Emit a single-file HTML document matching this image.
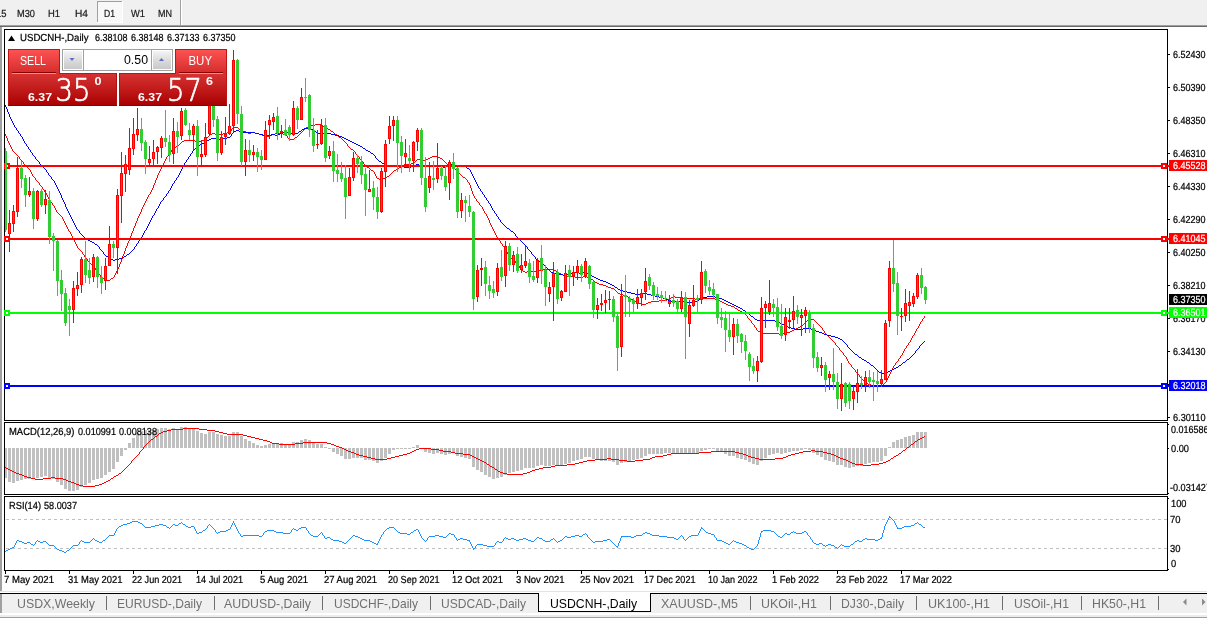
<!DOCTYPE html>
<html lang="en">
<head>
<meta charset="utf-8">
<title>USDCNH-,Daily</title>
<style>
html,body{margin:0;padding:0;background:#fff;overflow:hidden}
body{width:1207px;height:618px}
svg{display:block;font-family:'Liberation Sans', sans-serif}
text{white-space:pre}
.c{shape-rendering:crispEdges}
</style>
</head>
<body>
<svg width="1207" height="618" viewBox="0 0 1207 618">
<defs>
<linearGradient id="gb" x1="0" y1="0" x2="0" y2="1"><stop offset="0" stop-color="#ff5454"/><stop offset="1" stop-color="#d42c2c"/></linearGradient>
<linearGradient id="gp" x1="0" y1="0" x2="0" y2="1"><stop offset="0" stop-color="#d83434"/><stop offset="1" stop-color="#a80000"/></linearGradient>
<linearGradient id="gs" x1="0" y1="0" x2="0" y2="1"><stop offset="0" stop-color="#f4f4f4"/><stop offset="0.5" stop-color="#dcdcdc"/><stop offset="1" stop-color="#c8c8c8"/></linearGradient>
</defs>
<g class="c">
<rect x="0" y="0" width="1207" height="618" fill="#fff" />
<rect x="0" y="0" width="1207" height="25" fill="#f0f0f0" />
<rect x="0" y="25" width="1208" height="1" fill="#a0a0a0" />
<rect x="0" y="26" width="1208" height="1" fill="#696969" />
<rect x="0" y="27" width="2" height="565" fill="#a0a0a0" />
<rect x="0" y="591" width="1208" height="1" fill="#e3e3e3" />
<rect x="0" y="593" width="1208" height="1" fill="#000" />
<rect x="0" y="594" width="1207" height="19" fill="#f0f0f0" />
<rect x="0" y="613" width="1208" height="2" fill="#fff" />
<rect x="0" y="615" width="1207" height="2" fill="#ececec" />
<rect x="0" y="617" width="1207" height="1" fill="#a0a0a0" />
<rect x="0" y="594" width="2" height="19" fill="#a0a0a0" />
<rect x="4" y="29" width="1164" height="1" fill="#000" />
<rect x="4" y="420" width="1164" height="1" fill="#000" />
<rect x="4" y="29" width="1" height="392" fill="#000" />
<rect x="1167" y="29" width="1" height="392" fill="#000" />
<rect x="4" y="422" width="1164" height="1" fill="#000" />
<rect x="4" y="494" width="1164" height="1" fill="#000" />
<rect x="4" y="422" width="1" height="73" fill="#000" />
<rect x="1167" y="422" width="1" height="73" fill="#000" />
<rect x="4" y="496" width="1164" height="1" fill="#000" />
<rect x="4" y="570" width="1164" height="1" fill="#000" />
<rect x="4" y="496" width="1" height="75" fill="#000" />
<rect x="1167" y="496" width="1" height="75" fill="#000" />
</g>
<g class="c">
<rect x="98" y="2" width="24" height="20" fill="#f8f8f8" />
<rect x="97" y="1" width="1" height="22" fill="#a0a0a0" />
<rect x="97" y="1" width="25" height="1" fill="#a0a0a0" />
<rect x="122" y="1" width="1" height="22" fill="#fff" />
<rect x="97" y="22" width="26" height="1" fill="#fff" />
<rect x="180" y="0" width="1" height="25" fill="#a0a0a0" />
<rect x="181" y="0" width="1" height="25" fill="#fff" />
</g>
<text x="-4" y="17" font-size="10.2" fill="#1a1a1a" textLength="10.5" lengthAdjust="spacingAndGlyphs" text-rendering="geometricPrecision" stroke="#1a1a1a" stroke-width="0.22" >15</text>
<text x="17" y="17" font-size="10.2" fill="#1a1a1a" textLength="18" lengthAdjust="spacingAndGlyphs" text-rendering="geometricPrecision" stroke="#1a1a1a" stroke-width="0.22" >M30</text>
<text x="48" y="17" font-size="10.2" fill="#1a1a1a" textLength="12" lengthAdjust="spacingAndGlyphs" text-rendering="geometricPrecision" stroke="#1a1a1a" stroke-width="0.22" >H1</text>
<text x="75" y="17" font-size="10.2" fill="#1a1a1a" textLength="13" lengthAdjust="spacingAndGlyphs" text-rendering="geometricPrecision" stroke="#1a1a1a" stroke-width="0.22" >H4</text>
<text x="104" y="17" font-size="10.2" fill="#1a1a1a" textLength="11" lengthAdjust="spacingAndGlyphs" text-rendering="geometricPrecision" stroke="#1a1a1a" stroke-width="0.22" >D1</text>
<text x="131" y="17" font-size="10.2" fill="#1a1a1a" textLength="14" lengthAdjust="spacingAndGlyphs" text-rendering="geometricPrecision" stroke="#1a1a1a" stroke-width="0.22" >W1</text>
<text x="158" y="17" font-size="10.2" fill="#1a1a1a" textLength="14" lengthAdjust="spacingAndGlyphs" text-rendering="geometricPrecision" stroke="#1a1a1a" stroke-width="0.22" >MN</text>
<g class="c">
<rect x="1168" y="54" width="2" height="1" fill="#000" />
<rect x="1168" y="87" width="2" height="1" fill="#000" />
<rect x="1168" y="120" width="2" height="1" fill="#000" />
<rect x="1168" y="153" width="2" height="1" fill="#000" />
<rect x="1168" y="186" width="2" height="1" fill="#000" />
<rect x="1168" y="219" width="2" height="1" fill="#000" />
<rect x="1168" y="252" width="2" height="1" fill="#000" />
<rect x="1168" y="285" width="2" height="1" fill="#000" />
<rect x="1168" y="318" width="2" height="1" fill="#000" />
<rect x="1168" y="351" width="2" height="1" fill="#000" />
<rect x="1168" y="384" width="2" height="1" fill="#000" />
<rect x="1168" y="417" width="2" height="1" fill="#000" />
<rect x="1168" y="424" width="1" height="1" fill="#000" />
<rect x="1168" y="448" width="1" height="1" fill="#000" />
<rect x="1168" y="493" width="1" height="1" fill="#000" />
<rect x="1168" y="498" width="1" height="1" fill="#000" />
<rect x="1168" y="569" width="1" height="1" fill="#000" />
</g>
<text x="1173" y="58" font-size="10.2" fill="#000" textLength="32.5" lengthAdjust="spacingAndGlyphs" text-rendering="geometricPrecision" stroke="#000" stroke-width="0.22" >6.52430</text>
<text x="1173" y="91" font-size="10.2" fill="#000" textLength="32.5" lengthAdjust="spacingAndGlyphs" text-rendering="geometricPrecision" stroke="#000" stroke-width="0.22" >6.50390</text>
<text x="1173" y="124" font-size="10.2" fill="#000" textLength="32.5" lengthAdjust="spacingAndGlyphs" text-rendering="geometricPrecision" stroke="#000" stroke-width="0.22" >6.48350</text>
<text x="1173" y="157" font-size="10.2" fill="#000" textLength="32.5" lengthAdjust="spacingAndGlyphs" text-rendering="geometricPrecision" stroke="#000" stroke-width="0.22" >6.46310</text>
<text x="1173" y="190" font-size="10.2" fill="#000" textLength="32.5" lengthAdjust="spacingAndGlyphs" text-rendering="geometricPrecision" stroke="#000" stroke-width="0.22" >6.44330</text>
<text x="1173" y="223" font-size="10.2" fill="#000" textLength="32.5" lengthAdjust="spacingAndGlyphs" text-rendering="geometricPrecision" stroke="#000" stroke-width="0.22" >6.42290</text>
<text x="1173" y="256" font-size="10.2" fill="#000" textLength="32.5" lengthAdjust="spacingAndGlyphs" text-rendering="geometricPrecision" stroke="#000" stroke-width="0.22" >6.40250</text>
<text x="1173" y="289" font-size="10.2" fill="#000" textLength="32.5" lengthAdjust="spacingAndGlyphs" text-rendering="geometricPrecision" stroke="#000" stroke-width="0.22" >6.38210</text>
<text x="1173" y="322" font-size="10.2" fill="#000" textLength="32.5" lengthAdjust="spacingAndGlyphs" text-rendering="geometricPrecision" stroke="#000" stroke-width="0.22" >6.36170</text>
<text x="1173" y="355" font-size="10.2" fill="#000" textLength="32.5" lengthAdjust="spacingAndGlyphs" text-rendering="geometricPrecision" stroke="#000" stroke-width="0.22" >6.34130</text>
<text x="1173" y="388" font-size="10.2" fill="#000" textLength="32.5" lengthAdjust="spacingAndGlyphs" text-rendering="geometricPrecision" stroke="#000" stroke-width="0.22" >6.32090</text>
<text x="1173" y="421" font-size="10.2" fill="#000" textLength="32.5" lengthAdjust="spacingAndGlyphs" text-rendering="geometricPrecision" stroke="#000" stroke-width="0.22" >6.30110</text>
<text x="1171" y="433" font-size="10.2" fill="#000" textLength="37.5" lengthAdjust="spacingAndGlyphs" text-rendering="geometricPrecision" stroke="#000" stroke-width="0.22" >0.016586</text>
<text x="1171" y="452" font-size="10.2" fill="#000" textLength="18" lengthAdjust="spacingAndGlyphs" text-rendering="geometricPrecision" stroke="#000" stroke-width="0.22" >0.00</text>
<text x="1170" y="491" font-size="10.2" fill="#000" textLength="41" lengthAdjust="spacingAndGlyphs" text-rendering="geometricPrecision" stroke="#000" stroke-width="0.22" >-0.031427</text>
<text x="1171" y="507" font-size="10.2" fill="#000" textLength="15.5" lengthAdjust="spacingAndGlyphs" text-rendering="geometricPrecision" stroke="#000" stroke-width="0.22" >100</text>
<text x="1170" y="523" font-size="10.2" fill="#000" textLength="10.5" lengthAdjust="spacingAndGlyphs" text-rendering="geometricPrecision" stroke="#000" stroke-width="0.22" >70</text>
<text x="1170" y="552" font-size="10.2" fill="#000" textLength="10.5" lengthAdjust="spacingAndGlyphs" text-rendering="geometricPrecision" stroke="#000" stroke-width="0.22" >30</text>
<text x="1171" y="567" font-size="10.2" fill="#000" textLength="5.2" lengthAdjust="spacingAndGlyphs" text-rendering="geometricPrecision" stroke="#000" stroke-width="0.22" >0</text>
<g class="c">
<rect x="5" y="571" width="1" height="3" fill="#000" />
<rect x="69" y="571" width="1" height="3" fill="#000" />
<rect x="133" y="571" width="1" height="3" fill="#000" />
<rect x="197" y="571" width="1" height="3" fill="#000" />
<rect x="261" y="571" width="1" height="3" fill="#000" />
<rect x="325" y="571" width="1" height="3" fill="#000" />
<rect x="389" y="571" width="1" height="3" fill="#000" />
<rect x="453" y="571" width="1" height="3" fill="#000" />
<rect x="517" y="571" width="1" height="3" fill="#000" />
<rect x="581" y="571" width="1" height="3" fill="#000" />
<rect x="645" y="571" width="1" height="3" fill="#000" />
<rect x="709" y="571" width="1" height="3" fill="#000" />
<rect x="773" y="571" width="1" height="3" fill="#000" />
<rect x="837" y="571" width="1" height="3" fill="#000" />
<rect x="901" y="571" width="1" height="3" fill="#000" />
</g>
<text x="4" y="583" font-size="10.2" fill="#000" textLength="50" lengthAdjust="spacingAndGlyphs" text-rendering="geometricPrecision" stroke="#000" stroke-width="0.22" >7 May 2021</text>
<text x="68" y="583" font-size="10.2" fill="#000" textLength="54.5" lengthAdjust="spacingAndGlyphs" text-rendering="geometricPrecision" stroke="#000" stroke-width="0.22" >31 May 2021</text>
<text x="132" y="583" font-size="10.2" fill="#000" textLength="50" lengthAdjust="spacingAndGlyphs" text-rendering="geometricPrecision" stroke="#000" stroke-width="0.22" >22 Jun 2021</text>
<text x="196" y="583" font-size="10.2" fill="#000" textLength="47" lengthAdjust="spacingAndGlyphs" text-rendering="geometricPrecision" stroke="#000" stroke-width="0.22" >14 Jul 2021</text>
<text x="260" y="583" font-size="10.2" fill="#000" textLength="48" lengthAdjust="spacingAndGlyphs" text-rendering="geometricPrecision" stroke="#000" stroke-width="0.22" >5 Aug 2021</text>
<text x="324" y="583" font-size="10.2" fill="#000" textLength="53" lengthAdjust="spacingAndGlyphs" text-rendering="geometricPrecision" stroke="#000" stroke-width="0.22" >27 Aug 2021</text>
<text x="388" y="583" font-size="10.2" fill="#000" textLength="51.5" lengthAdjust="spacingAndGlyphs" text-rendering="geometricPrecision" stroke="#000" stroke-width="0.22" >20 Sep 2021</text>
<text x="452" y="583" font-size="10.2" fill="#000" textLength="51" lengthAdjust="spacingAndGlyphs" text-rendering="geometricPrecision" stroke="#000" stroke-width="0.22" >12 Oct 2021</text>
<text x="516" y="583" font-size="10.2" fill="#000" textLength="48.5" lengthAdjust="spacingAndGlyphs" text-rendering="geometricPrecision" stroke="#000" stroke-width="0.22" >3 Nov 2021</text>
<text x="580" y="583" font-size="10.2" fill="#000" textLength="54" lengthAdjust="spacingAndGlyphs" text-rendering="geometricPrecision" stroke="#000" stroke-width="0.22" >25 Nov 2021</text>
<text x="644" y="583" font-size="10.2" fill="#000" textLength="51.5" lengthAdjust="spacingAndGlyphs" text-rendering="geometricPrecision" stroke="#000" stroke-width="0.22" >17 Dec 2021</text>
<text x="708" y="583" font-size="10.2" fill="#000" textLength="49.5" lengthAdjust="spacingAndGlyphs" text-rendering="geometricPrecision" stroke="#000" stroke-width="0.22" >10 Jan 2022</text>
<text x="772" y="583" font-size="10.2" fill="#000" textLength="47" lengthAdjust="spacingAndGlyphs" text-rendering="geometricPrecision" stroke="#000" stroke-width="0.22" >1 Feb 2022</text>
<text x="836" y="583" font-size="10.2" fill="#000" textLength="51.5" lengthAdjust="spacingAndGlyphs" text-rendering="geometricPrecision" stroke="#000" stroke-width="0.22" >23 Feb 2022</text>
<text x="900" y="583" font-size="10.2" fill="#000" textLength="52" lengthAdjust="spacingAndGlyphs" text-rendering="geometricPrecision" stroke="#000" stroke-width="0.22" >17 Mar 2022</text>
<g class="c">
<rect x="539" y="593" width="111" height="18" fill="#fff" />
<rect x="538" y="594" width="1" height="18" fill="#000" />
<rect x="650" y="594" width="1" height="18" fill="#000" />
<rect x="538" y="611" width="113" height="1" fill="#000" />
<rect x="106" y="596" width="1" height="14" fill="#6e6e6e" />
<rect x="214" y="596" width="1" height="14" fill="#6e6e6e" />
<rect x="322" y="596" width="1" height="14" fill="#6e6e6e" />
<rect x="430" y="596" width="1" height="14" fill="#6e6e6e" />
<rect x="750" y="596" width="1" height="14" fill="#6e6e6e" />
<rect x="830" y="596" width="1" height="14" fill="#6e6e6e" />
<rect x="916" y="596" width="1" height="14" fill="#6e6e6e" />
<rect x="1002" y="596" width="1" height="14" fill="#6e6e6e" />
<rect x="1081" y="596" width="1" height="14" fill="#6e6e6e" />
<rect x="1158" y="596" width="1" height="14" fill="#6e6e6e" />
</g>
<text x="17" y="608" font-size="13" fill="#707070" textLength="78" lengthAdjust="spacingAndGlyphs" >USDX,Weekly</text>
<text x="117" y="608" font-size="13" fill="#707070" textLength="85" lengthAdjust="spacingAndGlyphs" >EURUSD-,Daily</text>
<text x="224" y="608" font-size="13" fill="#707070" textLength="87" lengthAdjust="spacingAndGlyphs" >AUDUSD-,Daily</text>
<text x="334" y="608" font-size="13" fill="#707070" textLength="84" lengthAdjust="spacingAndGlyphs" >USDCHF-,Daily</text>
<text x="441" y="608" font-size="13" fill="#707070" textLength="85" lengthAdjust="spacingAndGlyphs" >USDCAD-,Daily</text>
<text x="550" y="608" font-size="13" fill="#000" textLength="87" lengthAdjust="spacingAndGlyphs" >USDCNH-,Daily</text>
<text x="661" y="608" font-size="13" fill="#707070" textLength="77" lengthAdjust="spacingAndGlyphs" >XAUUSD-,M5</text>
<text x="761" y="608" font-size="13" fill="#707070" textLength="56" lengthAdjust="spacingAndGlyphs" >UKOil-,H1</text>
<text x="841" y="608" font-size="13" fill="#707070" textLength="63" lengthAdjust="spacingAndGlyphs" >DJ30-,Daily</text>
<text x="928" y="608" font-size="13" fill="#707070" textLength="62" lengthAdjust="spacingAndGlyphs" >UK100-,H1</text>
<text x="1014" y="608" font-size="13" fill="#707070" textLength="55" lengthAdjust="spacingAndGlyphs" >USOil-,H1</text>
<text x="1092" y="608" font-size="13" fill="#707070" textLength="54" lengthAdjust="spacingAndGlyphs" >HK50-,H1</text>
<path d="M1186.5 598.5 L1183 602 L1186.5 605.5z" fill="#8a8a8a"/><path d="M1202 598.5 L1205.5 602 L1202 605.5z" fill="#8a8a8a"/>
<clipPath id="cm"><rect x="5" y="30" width="1162" height="390"/></clipPath>
<g clip-path="url(#cm)">
<path class="c" fill="#ff0000" d="M315 124h7v1h-7zM311 125h4v1h-4zM308 126h3v1h-3zM323 126h2v1h-2zM233 127h5v1h-5zM306 127h2v1h-2zM326 128h2v1h-2zM239 129h2v1h-2zM328 129h2v1h-2zM241 130h2v1h-2zM243 131h3v1h-3zM331 131h2v1h-2zM227 132h3v1h-3zM246 132h2v1h-2zM251 132h4v1h-4zM212 133h3v1h-3zM223 133h4v1h-4zM248 133h3v1h-3zM255 133h4v1h-4zM275 133h8v1h-8zM210 134h2v1h-2zM215 134h8v1h-8zM259 134h3v1h-3zM272 134h3v1h-3zM283 134h3v1h-3zM335 134h2v1h-2zM262 135h2v1h-2zM270 135h2v1h-2zM264 136h6v1h-6zM295 137h2v1h-2zM339 137h2v1h-2zM204 139h2v1h-2zM289 139h5v1h-5zM184 140h11v1h-11zM202 140h2v1h-2zM182 141h2v1h-2zM195 141h7v1h-7zM176 146h2v1h-2zM174 147h2v1h-2zM351 149h2v1h-2zM432 156h6v1h-6zM430 157h2v1h-2zM438 157h2v1h-2zM428 158h2v1h-2zM440 158h2v1h-2zM417 159h6v1h-6zM426 159h2v1h-2zM423 160h3v1h-3zM411 163h3v1h-3zM404 164h7v1h-7zM447 164h2v1h-2zM402 165h2v1h-2zM450 166h2v1h-2zM367 167h2v1h-2zM399 167h2v1h-2zM452 167h2v1h-2zM396 169h2v1h-2zM371 170h2v1h-2zM394 170h2v1h-2zM387 176h2v1h-2zM463 177h2v1h-2zM377 178h2v1h-2zM383 178h3v1h-3zM379 179h4v1h-4zM511 258h2v1h-2zM543 269h11v1h-11zM539 270h4v1h-4zM554 270h2v1h-2zM523 271h2v1h-2zM527 271h12v1h-12zM556 271h2v1h-2zM525 272h2v1h-2zM559 273h2v1h-2zM561 274h2v1h-2zM563 275h4v1h-4zM567 276h8v1h-8zM583 276h4v1h-4zM575 277h8v1h-8zM587 277h3v1h-3zM102 278h2v1h-2zM111 278h2v1h-2zM104 279h3v1h-3zM591 279h2v1h-2zM107 280h3v1h-3zM595 282h2v1h-2zM597 283h2v1h-2zM599 284h4v1h-4zM603 285h3v1h-3zM606 286h2v1h-2zM608 287h3v1h-3zM611 288h3v1h-3zM618 293h2v1h-2zM620 294h3v1h-3zM623 295h3v1h-3zM626 296h2v1h-2zM673 296h2v1h-2zM628 297h2v1h-2zM671 297h2v1h-2zM675 297h8v1h-8zM683 298h12v1h-12zM699 298h16v1h-16zM631 299h2v1h-2zM667 299h3v1h-3zM695 299h4v1h-4zM715 299h3v1h-3zM633 300h2v1h-2zM659 300h8v1h-8zM718 300h2v1h-2zM635 301h3v1h-3zM651 301h8v1h-8zM720 301h2v1h-2zM648 302h3v1h-3zM722 302h2v1h-2zM639 303h2v1h-2zM646 303h2v1h-2zM724 303h2v1h-2zM641 304h5v1h-5zM726 304h2v1h-2zM728 305h3v1h-3zM731 306h3v1h-3zM735 308h2v1h-2zM738 310h2v1h-2zM740 311h2v1h-2zM743 313h2v1h-2zM809 319h5v1h-5zM807 320h2v1h-2zM800 326h2v1h-2zM798 327h2v1h-2zM796 328h2v1h-2zM794 329h2v1h-2zM792 330h2v1h-2zM758 331h2v1h-2zM790 331h2v1h-2zM760 332h3v1h-3zM784 332h6v1h-6zM763 333h16v1h-16zM782 333h2v1h-2zM779 334h3v1h-3zM866 383h2v1h-2zM868 384h3v1h-3zM871 385h4v1h-4zM875 386h7v1h-7zM5 134h1v2h-1zM6 136h1v2h-1zM7 138h1v3h-1zM8 141h1v2h-1zM9 143h1v2h-1zM10 145h1v2h-1zM11 147h1v2h-1zM12 149h1v2h-1zM13 151h1v1h-1zM14 152h1v1h-1zM15 153h1v1h-1zM16 154h1v1h-1zM17 155h1v1h-1zM18 156h1v1h-1zM19 157h1v2h-1zM20 159h1v1h-1zM21 160h1v1h-1zM22 161h1v1h-1zM23 162h1v2h-1zM24 164h1v1h-1zM25 165h1v1h-1zM26 166h1v1h-1zM27 167h1v1h-1zM28 168h1v1h-1zM29 169h1v1h-1zM30 170h1v2h-1zM31 172h1v2h-1zM32 174h1v2h-1zM33 176h1v1h-1zM34 177h1v1h-1zM35 178h1v2h-1zM36 180h1v1h-1zM37 181h1v1h-1zM38 182h1v1h-1zM39 183h1v2h-1zM40 185h1v1h-1zM41 186h1v1h-1zM42 187h1v2h-1zM43 189h1v1h-1zM44 190h1v2h-1zM45 192h1v1h-1zM46 193h1v2h-1zM47 195h1v2h-1zM48 197h1v2h-1zM49 199h1v1h-1zM50 200h1v2h-1zM51 202h1v1h-1zM52 203h1v2h-1zM53 205h1v1h-1zM54 206h1v2h-1zM55 208h1v2h-1zM56 210h1v2h-1zM57 212h1v1h-1zM58 213h1v1h-1zM59 214h1v1h-1zM60 215h1v1h-1zM61 216h1v1h-1zM62 217h1v2h-1zM63 219h1v2h-1zM64 221h1v2h-1zM65 223h1v2h-1zM66 225h1v2h-1zM67 227h1v2h-1zM68 229h1v2h-1zM69 231h1v1h-1zM70 232h1v2h-1zM71 234h1v2h-1zM72 236h1v2h-1zM73 238h1v2h-1zM74 240h1v2h-1zM75 242h1v2h-1zM76 244h1v2h-1zM77 246h1v2h-1zM78 248h1v1h-1zM79 249h1v1h-1zM80 250h1v1h-1zM81 251h1v1h-1zM82 252h1v2h-1zM83 254h1v1h-1zM84 255h1v2h-1zM85 257h1v1h-1zM86 258h1v1h-1zM87 259h1v2h-1zM88 261h1v1h-1zM89 262h1v1h-1zM90 263h1v1h-1zM91 264h1v1h-1zM92 265h1v1h-1zM93 266h1v1h-1zM94 267h1v1h-1zM95 268h1v2h-1zM96 270h1v1h-1zM97 271h1v1h-1zM98 272h1v2h-1zM99 274h1v1h-1zM100 275h1v2h-1zM101 277h1v1h-1zM110 279h1v1h-1zM113 277h1v1h-1zM114 275h1v2h-1zM115 273h1v2h-1zM116 271h1v2h-1zM117 269h1v2h-1zM118 267h1v2h-1zM119 264h1v3h-1zM120 262h1v2h-1zM121 259h1v3h-1zM122 256h1v3h-1zM123 254h1v2h-1zM124 251h1v3h-1zM125 248h1v3h-1zM126 246h1v2h-1zM127 243h1v3h-1zM128 241h1v2h-1zM129 238h1v3h-1zM130 236h1v2h-1zM131 233h1v3h-1zM132 231h1v2h-1zM133 228h1v3h-1zM134 226h1v2h-1zM135 223h1v3h-1zM136 221h1v2h-1zM137 218h1v3h-1zM138 216h1v2h-1zM139 214h1v2h-1zM140 212h1v2h-1zM141 209h1v3h-1zM142 207h1v2h-1zM143 205h1v2h-1zM144 203h1v2h-1zM145 201h1v2h-1zM146 199h1v2h-1zM147 197h1v2h-1zM148 195h1v2h-1zM149 194h1v1h-1zM150 192h1v2h-1zM151 190h1v2h-1zM152 188h1v2h-1zM153 185h1v3h-1zM154 183h1v2h-1zM155 180h1v3h-1zM156 178h1v2h-1zM157 175h1v3h-1zM158 173h1v2h-1zM159 171h1v2h-1zM160 169h1v2h-1zM161 167h1v2h-1zM162 165h1v2h-1zM163 163h1v2h-1zM164 161h1v2h-1zM165 159h1v2h-1zM166 157h1v2h-1zM167 156h1v1h-1zM168 154h1v2h-1zM169 153h1v1h-1zM170 152h1v1h-1zM171 150h1v2h-1zM172 149h1v1h-1zM173 148h1v1h-1zM178 145h1v1h-1zM179 144h1v1h-1zM180 143h1v1h-1zM181 142h1v1h-1zM206 138h1v1h-1zM207 137h1v1h-1zM208 136h1v1h-1zM209 135h1v1h-1zM230 131h1v1h-1zM231 129h1v2h-1zM232 128h1v1h-1zM238 128h1v1h-1zM286 135h1v1h-1zM287 136h1v2h-1zM288 138h1v1h-1zM294 138h1v1h-1zM297 136h1v1h-1zM298 135h1v1h-1zM299 134h1v1h-1zM300 133h1v1h-1zM301 132h1v1h-1zM302 131h1v1h-1zM303 130h1v1h-1zM304 129h1v1h-1zM305 128h1v1h-1zM322 125h1v1h-1zM325 127h1v1h-1zM330 130h1v1h-1zM333 132h1v1h-1zM334 133h1v1h-1zM337 135h1v1h-1zM338 136h1v1h-1zM341 138h1v1h-1zM342 139h1v1h-1zM343 140h1v1h-1zM344 141h1v1h-1zM345 142h1v1h-1zM346 143h1v1h-1zM347 144h1v2h-1zM348 146h1v1h-1zM349 147h1v1h-1zM350 148h1v1h-1zM353 150h1v1h-1zM354 151h1v1h-1zM355 152h1v2h-1zM356 154h1v1h-1zM357 155h1v1h-1zM358 156h1v1h-1zM359 157h1v2h-1zM360 159h1v1h-1zM361 160h1v1h-1zM362 161h1v1h-1zM363 162h1v2h-1zM364 164h1v1h-1zM365 165h1v1h-1zM366 166h1v1h-1zM369 168h1v1h-1zM370 169h1v1h-1zM373 171h1v1h-1zM374 172h1v2h-1zM375 174h1v2h-1zM376 176h1v2h-1zM386 177h1v1h-1zM389 175h1v1h-1zM390 174h1v1h-1zM391 173h1v1h-1zM392 172h1v1h-1zM393 171h1v1h-1zM398 168h1v1h-1zM401 166h1v1h-1zM414 162h1v1h-1zM415 161h1v1h-1zM416 160h1v1h-1zM442 159h1v1h-1zM443 160h1v1h-1zM444 161h1v1h-1zM445 162h1v1h-1zM446 163h1v1h-1zM449 165h1v1h-1zM454 168h1v1h-1zM455 169h1v1h-1zM456 170h1v1h-1zM457 171h1v1h-1zM458 172h1v1h-1zM459 173h1v1h-1zM460 174h1v1h-1zM461 175h1v1h-1zM462 176h1v1h-1zM465 178h1v1h-1zM466 179h1v1h-1zM467 180h1v2h-1zM468 182h1v1h-1zM469 183h1v2h-1zM470 185h1v3h-1zM471 188h1v3h-1zM472 191h1v3h-1zM473 194h1v2h-1zM474 196h1v2h-1zM475 198h1v1h-1zM476 199h1v2h-1zM477 201h1v1h-1zM478 202h1v1h-1zM479 203h1v2h-1zM480 205h1v1h-1zM481 206h1v1h-1zM482 207h1v2h-1zM483 209h1v2h-1zM484 211h1v2h-1zM485 213h1v1h-1zM486 214h1v2h-1zM487 216h1v2h-1zM488 218h1v2h-1zM489 220h1v3h-1zM490 223h1v2h-1zM491 225h1v2h-1zM492 227h1v2h-1zM493 229h1v2h-1zM494 231h1v2h-1zM495 233h1v2h-1zM496 235h1v2h-1zM497 237h1v1h-1zM498 238h1v2h-1zM499 240h1v1h-1zM500 241h1v2h-1zM501 243h1v1h-1zM502 244h1v2h-1zM503 246h1v1h-1zM504 247h1v2h-1zM505 249h1v1h-1zM506 250h1v2h-1zM507 252h1v2h-1zM508 254h1v2h-1zM509 256h1v1h-1zM510 257h1v1h-1zM513 259h1v1h-1zM514 260h1v1h-1zM515 261h1v2h-1zM516 263h1v1h-1zM517 264h1v1h-1zM518 265h1v1h-1zM519 266h1v2h-1zM520 268h1v1h-1zM521 269h1v1h-1zM522 270h1v1h-1zM558 272h1v1h-1zM590 278h1v1h-1zM593 280h1v1h-1zM594 281h1v1h-1zM614 289h1v1h-1zM615 290h1v1h-1zM616 291h1v1h-1zM617 292h1v1h-1zM630 298h1v1h-1zM638 302h1v1h-1zM670 298h1v1h-1zM734 307h1v1h-1zM737 309h1v1h-1zM742 312h1v1h-1zM745 314h1v1h-1zM746 315h1v1h-1zM747 316h1v2h-1zM748 318h1v1h-1zM749 319h1v1h-1zM750 320h1v1h-1zM751 321h1v2h-1zM752 323h1v1h-1zM753 324h1v1h-1zM754 325h1v2h-1zM755 327h1v1h-1zM756 328h1v2h-1zM757 330h1v1h-1zM802 325h1v1h-1zM803 324h1v1h-1zM804 323h1v1h-1zM805 322h1v1h-1zM806 321h1v1h-1zM814 320h1v1h-1zM815 321h1v1h-1zM816 322h1v1h-1zM817 323h1v1h-1zM818 324h1v1h-1zM819 325h1v1h-1zM820 326h1v1h-1zM821 327h1v1h-1zM822 328h1v2h-1zM823 330h1v1h-1zM824 331h1v2h-1zM825 333h1v1h-1zM826 334h1v1h-1zM827 335h1v1h-1zM828 336h1v1h-1zM829 337h1v1h-1zM830 338h1v1h-1zM831 339h1v1h-1zM832 340h1v1h-1zM833 341h1v1h-1zM834 342h1v1h-1zM835 343h1v2h-1zM836 345h1v1h-1zM837 346h1v1h-1zM838 347h1v1h-1zM839 348h1v2h-1zM840 350h1v1h-1zM841 351h1v1h-1zM842 352h1v1h-1zM843 353h1v2h-1zM844 355h1v1h-1zM845 356h1v1h-1zM846 357h1v2h-1zM847 359h1v2h-1zM848 361h1v2h-1zM849 363h1v1h-1zM850 364h1v1h-1zM851 365h1v2h-1zM852 367h1v1h-1zM853 368h1v1h-1zM854 369h1v1h-1zM855 370h1v2h-1zM856 372h1v1h-1zM857 373h1v1h-1zM858 374h1v1h-1zM859 375h1v2h-1zM860 377h1v1h-1zM861 378h1v1h-1zM862 379h1v1h-1zM863 380h1v1h-1zM864 381h1v1h-1zM865 382h1v1h-1zM882 385h1v1h-1zM883 384h1v1h-1zM884 383h1v1h-1zM885 382h1v1h-1zM886 380h1v2h-1zM887 378h1v2h-1zM888 376h1v2h-1zM889 374h1v2h-1zM890 372h1v2h-1zM891 370h1v2h-1zM892 368h1v2h-1zM893 366h1v2h-1zM894 365h1v1h-1zM895 363h1v2h-1zM896 362h1v1h-1zM897 361h1v1h-1zM898 359h1v2h-1zM899 358h1v1h-1zM900 356h1v2h-1zM901 355h1v1h-1zM902 353h1v2h-1zM903 351h1v2h-1zM904 349h1v2h-1zM905 348h1v1h-1zM906 346h1v2h-1zM907 345h1v1h-1zM908 343h1v2h-1zM909 342h1v1h-1zM910 340h1v2h-1zM911 338h1v2h-1zM912 336h1v2h-1zM913 335h1v1h-1zM914 333h1v2h-1zM915 331h1v2h-1zM916 329h1v2h-1zM917 328h1v1h-1zM918 326h1v2h-1zM919 324h1v2h-1zM920 322h1v2h-1zM921 321h1v1h-1zM922 319h1v2h-1zM923 318h1v1h-1zM924 316h1v2h-1z" />
<path class="c" fill="#0000ff" d="M304 128h7v1h-7zM302 129h2v1h-2zM311 129h3v1h-3zM236 130h3v1h-3zM234 131h2v1h-2zM239 131h4v1h-4zM299 131h2v1h-2zM243 132h12v1h-12zM283 132h8v1h-8zM255 133h4v1h-4zM280 133h3v1h-3zM291 133h7v1h-7zM317 133h14v1h-14zM259 134h4v1h-4zM271 134h4v1h-4zM278 134h2v1h-2zM331 134h4v1h-4zM263 135h8v1h-8zM275 135h3v1h-3zM335 135h4v1h-4zM339 136h3v1h-3zM227 137h3v1h-3zM342 137h2v1h-2zM211 138h8v1h-8zM223 138h4v1h-4zM344 138h2v1h-2zM209 139h2v1h-2zM219 139h4v1h-4zM346 139h2v1h-2zM207 140h2v1h-2zM348 140h2v1h-2zM350 141h2v1h-2zM204 142h2v1h-2zM352 142h2v1h-2zM202 143h2v1h-2zM354 143h2v1h-2zM200 144h2v1h-2zM356 144h2v1h-2zM198 145h2v1h-2zM358 145h2v1h-2zM360 146h2v1h-2zM363 148h2v1h-2zM366 150h2v1h-2zM368 151h2v1h-2zM371 153h2v1h-2zM379 161h2v1h-2zM382 163h2v1h-2zM384 164h3v1h-3zM416 164h3v1h-3zM451 164h4v1h-4zM387 165h15v1h-15zM414 165h2v1h-2zM419 165h4v1h-4zM427 165h8v1h-8zM448 165h3v1h-3zM455 165h8v1h-8zM402 166h2v1h-2zM411 166h3v1h-3zM423 166h4v1h-4zM435 166h8v1h-8zM446 166h2v1h-2zM463 166h3v1h-3zM404 167h7v1h-7zM443 167h3v1h-3zM467 168h2v1h-2zM507 228h2v1h-2zM511 231h2v1h-2zM86 239h2v1h-2zM88 240h2v1h-2zM90 241h2v1h-2zM92 242h2v1h-2zM95 244h2v1h-2zM127 254h2v1h-2zM106 256h2v1h-2zM124 256h2v1h-2zM108 257h2v1h-2zM122 257h2v1h-2zM119 258h3v1h-3zM111 259h2v1h-2zM115 259h4v1h-4zM113 260h2v1h-2zM538 261h2v1h-2zM540 262h2v1h-2zM551 272h2v1h-2zM575 272h4v1h-4zM583 272h3v1h-3zM553 273h6v1h-6zM571 273h4v1h-4zM579 273h4v1h-4zM586 273h2v1h-2zM559 274h4v1h-4zM567 274h4v1h-4zM588 274h2v1h-2zM563 275h4v1h-4zM590 275h2v1h-2zM592 276h2v1h-2zM594 277h2v1h-2zM596 278h2v1h-2zM598 279h2v1h-2zM600 280h3v1h-3zM603 281h3v1h-3zM606 282h2v1h-2zM608 283h2v1h-2zM610 284h2v1h-2zM612 285h2v1h-2zM615 287h2v1h-2zM618 289h2v1h-2zM620 290h3v1h-3zM623 291h4v1h-4zM627 292h4v1h-4zM631 293h4v1h-4zM643 293h4v1h-4zM635 294h8v1h-8zM647 294h4v1h-4zM651 295h4v1h-4zM655 296h4v1h-4zM707 296h8v1h-8zM659 297h4v1h-4zM701 297h6v1h-6zM715 297h4v1h-4zM663 298h3v1h-3zM719 298h3v1h-3zM666 299h2v1h-2zM722 299h2v1h-2zM668 300h3v1h-3zM724 300h2v1h-2zM671 301h16v1h-16zM695 301h3v1h-3zM726 301h2v1h-2zM687 302h8v1h-8zM728 302h2v1h-2zM730 303h2v1h-2zM732 304h2v1h-2zM734 305h2v1h-2zM736 306h2v1h-2zM738 307h2v1h-2zM740 308h2v1h-2zM743 310h2v1h-2zM747 313h2v1h-2zM751 316h2v1h-2zM755 319h2v1h-2zM757 320h18v1h-18zM775 321h3v1h-3zM778 322h2v1h-2zM780 323h2v1h-2zM782 324h2v1h-2zM784 325h2v1h-2zM786 326h2v1h-2zM788 327h3v1h-3zM791 328h4v1h-4zM803 328h8v1h-8zM795 329h8v1h-8zM811 329h3v1h-3zM814 330h2v1h-2zM816 331h3v1h-3zM819 332h3v1h-3zM822 333h2v1h-2zM824 334h3v1h-3zM827 335h4v1h-4zM831 336h4v1h-4zM835 337h3v1h-3zM838 338h2v1h-2zM840 339h2v1h-2zM855 354h2v1h-2zM859 357h2v1h-2zM862 359h2v1h-2zM907 359h2v1h-2zM864 360h2v1h-2zM867 362h2v1h-2zM903 362h2v1h-2zM871 365h2v1h-2zM899 365h2v1h-2zM896 367h2v1h-2zM894 368h2v1h-2zM892 369h2v1h-2zM890 370h2v1h-2zM888 371h2v1h-2zM879 372h2v1h-2zM886 372h2v1h-2zM881 373h5v1h-5zM5 105h1v2h-1zM6 107h1v2h-1zM7 109h1v3h-1zM8 112h1v2h-1zM9 114h1v3h-1zM10 117h1v2h-1zM11 119h1v2h-1zM12 121h1v2h-1zM13 123h1v2h-1zM14 125h1v2h-1zM15 127h1v1h-1zM16 128h1v2h-1zM17 130h1v1h-1zM18 131h1v2h-1zM19 133h1v1h-1zM20 134h1v2h-1zM21 136h1v1h-1zM22 137h1v2h-1zM23 139h1v2h-1zM24 141h1v2h-1zM25 143h1v1h-1zM26 144h1v2h-1zM27 146h1v1h-1zM28 147h1v2h-1zM29 149h1v1h-1zM30 150h1v2h-1zM31 152h1v1h-1zM32 153h1v2h-1zM33 155h1v1h-1zM34 156h1v1h-1zM35 157h1v2h-1zM36 159h1v1h-1zM37 160h1v1h-1zM38 161h1v1h-1zM39 162h1v2h-1zM40 164h1v1h-1zM41 165h1v1h-1zM42 166h1v1h-1zM43 167h1v1h-1zM44 168h1v1h-1zM45 169h1v1h-1zM46 170h1v2h-1zM47 172h1v1h-1zM48 173h1v2h-1zM49 175h1v1h-1zM50 176h1v1h-1zM51 177h1v2h-1zM52 179h1v1h-1zM53 180h1v1h-1zM54 181h1v2h-1zM55 183h1v2h-1zM56 185h1v2h-1zM57 187h1v2h-1zM58 189h1v2h-1zM59 191h1v2h-1zM60 193h1v2h-1zM61 195h1v3h-1zM62 198h1v2h-1zM63 200h1v2h-1zM64 202h1v2h-1zM65 204h1v3h-1zM66 207h1v2h-1zM67 209h1v2h-1zM68 211h1v2h-1zM69 213h1v2h-1zM70 215h1v2h-1zM71 217h1v2h-1zM72 219h1v2h-1zM73 221h1v2h-1zM74 223h1v2h-1zM75 225h1v2h-1zM76 227h1v2h-1zM77 229h1v1h-1zM78 230h1v1h-1zM79 231h1v2h-1zM80 233h1v1h-1zM81 234h1v1h-1zM82 235h1v1h-1zM83 236h1v1h-1zM84 237h1v1h-1zM85 238h1v1h-1zM94 243h1v1h-1zM97 245h1v1h-1zM98 246h1v1h-1zM99 247h1v2h-1zM100 249h1v1h-1zM101 250h1v1h-1zM102 251h1v1h-1zM103 252h1v2h-1zM104 254h1v1h-1zM105 255h1v1h-1zM110 258h1v1h-1zM126 255h1v1h-1zM129 253h1v1h-1zM130 252h1v1h-1zM131 251h1v1h-1zM132 250h1v1h-1zM133 249h1v1h-1zM134 247h1v2h-1zM135 246h1v1h-1zM136 244h1v2h-1zM137 243h1v1h-1zM138 241h1v2h-1zM139 240h1v1h-1zM140 238h1v2h-1zM141 237h1v1h-1zM142 235h1v2h-1zM143 233h1v2h-1zM144 231h1v2h-1zM145 230h1v1h-1zM146 228h1v2h-1zM147 226h1v2h-1zM148 224h1v2h-1zM149 222h1v2h-1zM150 220h1v2h-1zM151 218h1v2h-1zM152 216h1v2h-1zM153 215h1v1h-1zM154 213h1v2h-1zM155 211h1v2h-1zM156 209h1v2h-1zM157 208h1v1h-1zM158 206h1v2h-1zM159 204h1v2h-1zM160 202h1v2h-1zM161 201h1v1h-1zM162 200h1v1h-1zM163 198h1v2h-1zM164 197h1v1h-1zM165 196h1v1h-1zM166 194h1v2h-1zM167 193h1v1h-1zM168 191h1v2h-1zM169 190h1v1h-1zM170 188h1v2h-1zM171 186h1v2h-1zM172 184h1v2h-1zM173 183h1v1h-1zM174 181h1v2h-1zM175 180h1v1h-1zM176 178h1v2h-1zM177 177h1v1h-1zM178 175h1v2h-1zM179 173h1v2h-1zM180 171h1v2h-1zM181 169h1v2h-1zM182 167h1v2h-1zM183 165h1v2h-1zM184 163h1v2h-1zM185 162h1v1h-1zM186 160h1v2h-1zM187 159h1v1h-1zM188 157h1v2h-1zM189 156h1v1h-1zM190 154h1v2h-1zM191 153h1v1h-1zM192 151h1v2h-1zM193 150h1v1h-1zM194 149h1v1h-1zM195 148h1v1h-1zM196 147h1v1h-1zM197 146h1v1h-1zM206 141h1v1h-1zM230 136h1v1h-1zM231 134h1v2h-1zM232 133h1v1h-1zM233 132h1v1h-1zM298 132h1v1h-1zM301 130h1v1h-1zM314 130h1v1h-1zM315 131h1v1h-1zM316 132h1v1h-1zM362 147h1v1h-1zM365 149h1v1h-1zM370 152h1v1h-1zM373 154h1v1h-1zM374 155h1v1h-1zM375 156h1v2h-1zM376 158h1v1h-1zM377 159h1v1h-1zM378 160h1v1h-1zM381 162h1v1h-1zM466 167h1v1h-1zM469 169h1v1h-1zM470 170h1v2h-1zM471 172h1v2h-1zM472 174h1v2h-1zM473 176h1v2h-1zM474 178h1v2h-1zM475 180h1v2h-1zM476 182h1v2h-1zM477 184h1v2h-1zM478 186h1v2h-1zM479 188h1v1h-1zM480 189h1v2h-1zM481 191h1v1h-1zM482 192h1v2h-1zM483 194h1v1h-1zM484 195h1v2h-1zM485 197h1v1h-1zM486 198h1v2h-1zM487 200h1v1h-1zM488 201h1v2h-1zM489 203h1v1h-1zM490 204h1v2h-1zM491 206h1v2h-1zM492 208h1v2h-1zM493 210h1v1h-1zM494 211h1v2h-1zM495 213h1v1h-1zM496 214h1v2h-1zM497 216h1v1h-1zM498 217h1v2h-1zM499 219h1v1h-1zM500 220h1v2h-1zM501 222h1v1h-1zM502 223h1v1h-1zM503 224h1v1h-1zM504 225h1v1h-1zM505 226h1v1h-1zM506 227h1v1h-1zM509 229h1v1h-1zM510 230h1v1h-1zM513 232h1v1h-1zM514 233h1v1h-1zM515 234h1v2h-1zM516 236h1v1h-1zM517 237h1v1h-1zM518 238h1v1h-1zM519 239h1v1h-1zM520 240h1v1h-1zM521 241h1v1h-1zM522 242h1v1h-1zM523 243h1v1h-1zM524 244h1v1h-1zM525 245h1v1h-1zM526 246h1v1h-1zM527 247h1v2h-1zM528 249h1v1h-1zM529 250h1v1h-1zM530 251h1v1h-1zM531 252h1v2h-1zM532 254h1v1h-1zM533 255h1v1h-1zM534 256h1v1h-1zM535 257h1v2h-1zM536 259h1v1h-1zM537 260h1v1h-1zM542 263h1v1h-1zM543 264h1v1h-1zM544 265h1v1h-1zM545 266h1v1h-1zM546 267h1v1h-1zM547 268h1v1h-1zM548 269h1v1h-1zM549 270h1v1h-1zM550 271h1v1h-1zM614 286h1v1h-1zM617 288h1v1h-1zM698 300h1v1h-1zM699 299h1v1h-1zM700 298h1v1h-1zM742 309h1v1h-1zM745 311h1v1h-1zM746 312h1v1h-1zM749 314h1v1h-1zM750 315h1v1h-1zM753 317h1v1h-1zM754 318h1v1h-1zM842 340h1v1h-1zM843 341h1v1h-1zM844 342h1v1h-1zM845 343h1v1h-1zM846 344h1v1h-1zM847 345h1v2h-1zM848 347h1v1h-1zM849 348h1v1h-1zM850 349h1v1h-1zM851 350h1v1h-1zM852 351h1v1h-1zM853 352h1v1h-1zM854 353h1v1h-1zM857 355h1v1h-1zM858 356h1v1h-1zM861 358h1v1h-1zM866 361h1v1h-1zM869 363h1v1h-1zM870 364h1v1h-1zM873 366h1v1h-1zM874 367h1v1h-1zM875 368h1v1h-1zM876 369h1v1h-1zM877 370h1v1h-1zM878 371h1v1h-1zM898 366h1v1h-1zM901 364h1v1h-1zM902 363h1v1h-1zM905 361h1v1h-1zM906 360h1v1h-1zM909 358h1v1h-1zM910 357h1v1h-1zM911 356h1v1h-1zM912 355h1v1h-1zM913 354h1v1h-1zM914 353h1v1h-1zM915 351h1v2h-1zM916 350h1v1h-1zM917 349h1v1h-1zM918 348h1v1h-1zM919 346h1v2h-1zM920 345h1v1h-1zM921 344h1v1h-1zM922 343h1v1h-1zM923 342h1v1h-1zM924 341h1v1h-1z" />
</g>
<g class="c">
<rect x="4" y="165" width="1165" height="2" fill="#ff0000" />
<rect x="4" y="163" width="6" height="6" fill="#ff0000" />
<rect x="6" y="165" width="2" height="2" fill="#fff" />
<rect x="1161" y="163" width="6" height="6" fill="#ff0000" />
<rect x="1163" y="165" width="2" height="2" fill="#fff" />
</g>
<g class="c">
<rect x="4" y="238" width="1165" height="2" fill="#ff0000" />
<rect x="4" y="236" width="6" height="6" fill="#ff0000" />
<rect x="6" y="238" width="2" height="2" fill="#fff" />
<rect x="1161" y="236" width="6" height="6" fill="#ff0000" />
<rect x="1163" y="238" width="2" height="2" fill="#fff" />
</g>
<g class="c">
<rect x="4" y="312" width="1165" height="2" fill="#00ff00" />
<rect x="4" y="310" width="6" height="6" fill="#00ff00" />
<rect x="6" y="312" width="2" height="2" fill="#fff" />
<rect x="1161" y="310" width="6" height="6" fill="#00ff00" />
<rect x="1163" y="312" width="2" height="2" fill="#fff" />
</g>
<g class="c">
<rect x="4" y="385" width="1165" height="2" fill="#0000ff" />
<rect x="4" y="383" width="6" height="6" fill="#0000ff" />
<rect x="6" y="385" width="2" height="2" fill="#fff" />
<rect x="1161" y="383" width="6" height="6" fill="#0000ff" />
<rect x="1163" y="385" width="2" height="2" fill="#fff" />
</g>
<g clip-path="url(#cm)">
<g class="c">
<path fill="#32cd32" d="M5 148h1v84h-1zM4 151h3v79h-3zM21 161h1v27h-1zM20 168h3v11h-3zM25 175h1v32h-1zM24 178h3v17h-3zM33 188h1v41h-1zM32 191h3v28h-3zM41 189h1v18h-1zM40 191h3v14h-3zM49 191h1v53h-1zM48 200h3v37h-3zM53 233h1v38h-1zM52 236h3v5h-3zM57 240h1v56h-1zM56 241h3v40h-3zM61 270h1v41h-1zM60 280h3v14h-3zM65 288h1v38h-1zM64 293h3v30h-3zM69 299h1v37h-1zM68 306h3v4h-3zM85 241h1v42h-1zM84 259h3v16h-3zM89 258h1v26h-1zM88 270h3v8h-3zM97 256h1v32h-1zM96 257h3v20h-3zM101 266h1v28h-1zM100 277h3v6h-3zM113 241h1v17h-1zM112 244h3v4h-3zM141 118h1v33h-1zM140 129h3v14h-3zM145 140h1v34h-1zM144 142h3v17h-3zM165 110h1v37h-1zM164 138h3v4h-3zM169 135h1v27h-1zM168 142h3v13h-3zM177 122h1v31h-1zM176 131h3v6h-3zM185 108h1v18h-1zM184 110h3v15h-3zM189 123h1v17h-1zM188 130h3v5h-3zM197 120h1v56h-1zM196 126h3v31h-3zM213 98h1v29h-1zM212 100h3v20h-3zM217 116h1v45h-1zM216 119h3v34h-3zM237 59h1v65h-1zM236 60h3v54h-3zM241 106h1v60h-1zM240 114h3v48h-3zM249 140h1v22h-1zM248 150h3v5h-3zM257 148h1v24h-1zM256 152h3v5h-3zM261 150h1v20h-1zM260 156h3v4h-3zM277 107h1v33h-1zM276 116h3v17h-3zM285 119h1v17h-1zM284 130h3v5h-3zM289 125h1v16h-1zM288 127h3v8h-3zM297 106h1v23h-1zM296 108h3v12h-3zM305 78h1v24h-1zM304 97h3v1h-3zM309 94h1v43h-1zM308 95h3v35h-3zM313 118h1v34h-1zM312 130h3v16h-3zM325 118h1v44h-1zM324 125h3v33h-3zM333 141h1v41h-1zM332 151h3v20h-3zM337 154h1v28h-1zM336 170h3v4h-3zM341 162h1v20h-1zM340 173h3v6h-3zM345 165h1v54h-1zM344 178h3v19h-3zM357 155h1v18h-1zM356 158h3v6h-3zM361 156h1v28h-1zM360 162h3v13h-3zM365 168h1v48h-1zM364 174h3v16h-3zM373 181h1v29h-1zM372 188h3v9h-3zM377 187h1v32h-1zM376 197h3v15h-3zM397 116h1v56h-1zM396 120h3v23h-3zM401 136h1v37h-1zM400 142h3v14h-3zM409 145h1v27h-1zM408 158h3v3h-3zM421 128h1v57h-1zM420 130h3v48h-3zM425 157h1v55h-1zM424 178h3v29h-3zM433 161h1v29h-1zM432 178h3v2h-3zM441 166h1v14h-1zM440 168h3v8h-3zM445 166h1v25h-1zM444 176h3v11h-3zM453 153h1v26h-1zM452 162h3v7h-3zM457 167h1v51h-1zM456 168h3v44h-3zM465 196h1v26h-1zM464 200h3v3h-3zM469 195h1v22h-1zM468 206h3v6h-3zM473 211h1v99h-1zM472 212h3v87h-3zM485 261h1v35h-1zM484 267h3v17h-3zM489 276h1v23h-1zM488 285h3v6h-3zM493 281h1v17h-1zM492 289h3v4h-3zM501 250h1v31h-1zM500 267h3v10h-3zM509 243h1v28h-1zM508 246h3v19h-3zM517 247h1v26h-1zM516 254h3v17h-3zM529 259h1v24h-1zM528 263h3v14h-3zM533 261h1v21h-1zM532 276h3v4h-3zM541 245h1v39h-1zM540 258h3v12h-3zM545 265h1v41h-1zM544 270h3v17h-3zM557 269h1v35h-1zM556 272h3v27h-3zM569 265h1v31h-1zM568 270h3v7h-3zM581 264h1v18h-1zM580 266h3v9h-3zM589 265h1v24h-1zM588 266h3v18h-3zM593 281h1v37h-1zM592 282h3v28h-3zM613 296h1v26h-1zM612 299h3v18h-3zM617 314h1v57h-1zM616 316h3v32h-3zM625 275h1v42h-1zM624 295h3v2h-3zM629 296h1v21h-1zM628 298h3v4h-3zM633 298h1v15h-1zM632 300h3v4h-3zM649 274h1v16h-1zM648 277h3v9h-3zM653 282h1v18h-1zM652 285h3v11h-3zM657 287h1v13h-1zM656 294h3v2h-3zM661 291h1v12h-1zM660 295h3v3h-3zM665 291h1v10h-1zM664 298h3v1h-3zM673 294h1v13h-1zM672 300h3v3h-3zM677 299h1v15h-1zM676 301h3v8h-3zM685 292h1v67h-1zM684 297h3v20h-3zM697 295h1v18h-1zM696 298h3v2h-3zM705 269h1v24h-1zM704 271h3v15h-3zM709 280h1v15h-1zM708 287h3v4h-3zM713 283h1v15h-1zM712 289h3v6h-3zM717 294h1v30h-1zM716 294h3v24h-3zM721 308h1v20h-1zM720 317h3v3h-3zM725 311h1v41h-1zM724 318h3v12h-3zM729 314h1v28h-1zM728 330h3v7h-3zM737 319h1v24h-1zM736 324h3v12h-3zM741 333h1v20h-1zM740 334h3v8h-3zM745 335h1v25h-1zM744 341h3v10h-3zM749 352h1v29h-1zM748 354h3v13h-3zM753 358h1v16h-1zM752 366h3v5h-3zM773 299h1v18h-1zM772 304h3v4h-3zM777 298h1v33h-1zM776 307h3v20h-3zM781 304h1v35h-1zM780 326h3v10h-3zM797 305h1v19h-1zM796 310h3v7h-3zM809 310h1v23h-1zM808 313h3v15h-3zM813 324h1v44h-1zM812 328h3v30h-3zM817 352h1v20h-1zM816 357h3v11h-3zM825 362h1v30h-1zM824 365h3v15h-3zM833 348h1v42h-1zM832 374h3v8h-3zM837 373h1v36h-1zM836 382h3v17h-3zM845 382h1v25h-1zM844 383h3v20h-3zM849 382h1v27h-1zM848 384h3v17h-3zM861 376h1v13h-1zM860 383h3v2h-3zM869 370h1v18h-1zM868 377h3v5h-3zM873 372h1v29h-1zM872 380h3v2h-3zM877 371h1v21h-1zM876 381h3v3h-3zM893 240h1v52h-1zM892 268h3v16h-3zM897 272h1v63h-1zM896 283h3v33h-3zM921 268h1v26h-1zM920 275h3v13h-3zM925 286h1v18h-1zM924 287h3v13h-3z"/>
<path fill="#ff0000" d="M9 210h1v42h-1zM8 223h3v11h-3zM13 205h1v27h-1zM12 211h3v13h-3zM17 157h1v60h-1zM16 168h3v44h-3zM29 177h1v20h-1zM28 191h3v4h-3zM37 190h1v31h-1zM36 191h3v28h-3zM45 190h1v24h-1zM44 199h3v6h-3zM73 281h1v42h-1zM72 288h3v22h-3zM77 272h1v24h-1zM76 285h3v4h-3zM81 257h1v36h-1zM80 259h3v26h-3zM93 254h1v28h-1zM92 257h3v20h-3zM105 258h1v32h-1zM104 266h3v15h-3zM109 226h1v40h-1zM108 244h3v22h-3zM117 189h1v85h-1zM116 195h3v53h-3zM121 152h1v71h-1zM120 173h3v23h-3zM125 155h1v37h-1zM124 164h3v10h-3zM129 128h1v47h-1zM128 148h3v22h-3zM133 118h1v37h-1zM132 134h3v15h-3zM137 108h1v33h-1zM136 129h3v6h-3zM149 146h1v19h-1zM148 159h3v4h-3zM153 140h1v25h-1zM152 152h3v7h-3zM157 146h1v18h-1zM156 147h3v5h-3zM161 136h1v22h-1zM160 138h3v10h-3zM173 118h1v46h-1zM172 131h3v23h-3zM181 108h1v32h-1zM180 111h3v25h-3zM193 124h1v26h-1zM192 126h3v9h-3zM201 140h1v26h-1zM200 154h3v3h-3zM205 123h1v34h-1zM204 137h3v18h-3zM209 95h1v41h-1zM208 100h3v34h-3zM221 131h1v24h-1zM220 137h3v16h-3zM225 117h1v28h-1zM224 134h3v3h-3zM229 104h1v31h-1zM228 126h3v8h-3zM233 50h1v82h-1zM232 60h3v66h-3zM245 139h1v37h-1zM244 150h3v12h-3zM253 145h1v16h-1zM252 152h3v3h-3zM265 121h1v39h-1zM264 130h3v30h-3zM269 115h1v24h-1zM268 120h3v5h-3zM273 113h1v17h-1zM272 117h3v5h-3zM281 125h1v13h-1zM280 131h3v2h-3zM293 101h1v35h-1zM292 108h3v27h-3zM301 88h1v32h-1zM300 97h3v23h-3zM317 130h1v19h-1zM316 144h3v1h-3zM321 119h1v26h-1zM320 125h3v19h-3zM329 146h1v13h-1zM328 151h3v5h-3zM349 168h1v28h-1zM348 177h3v19h-3zM353 152h1v29h-1zM352 158h3v20h-3zM369 170h1v22h-1zM368 189h3v3h-3zM381 168h1v45h-1zM380 171h3v41h-3zM385 140h1v47h-1zM384 144h3v28h-3zM389 116h1v28h-1zM388 126h3v13h-3zM393 116h1v25h-1zM392 120h3v6h-3zM405 139h1v27h-1zM404 153h3v4h-3zM413 141h1v31h-1zM412 142h3v19h-3zM417 128h1v23h-1zM416 130h3v12h-3zM429 162h1v31h-1zM428 176h3v12h-3zM437 143h1v40h-1zM436 168h3v11h-3zM449 160h1v40h-1zM448 162h3v21h-3zM461 193h1v25h-1zM460 200h3v11h-3zM477 265h1v37h-1zM476 270h3v27h-3zM481 258h1v28h-1zM480 268h3v2h-3zM497 263h1v33h-1zM496 268h3v24h-3zM505 241h1v46h-1zM504 246h3v30h-3zM513 251h1v21h-1zM512 255h3v10h-3zM521 254h1v19h-1zM520 265h3v5h-3zM525 246h1v22h-1zM524 261h3v5h-3zM537 258h1v25h-1zM536 260h3v18h-3zM549 282h1v20h-1zM548 287h3v7h-3zM553 262h1v59h-1zM552 273h3v14h-3zM561 290h1v11h-1zM560 291h3v7h-3zM565 265h1v27h-1zM564 273h3v19h-3zM573 266h1v20h-1zM572 272h3v4h-3zM577 260h1v20h-1zM576 266h3v7h-3zM585 258h1v20h-1zM584 261h3v15h-3zM597 298h1v21h-1zM596 305h3v5h-3zM601 294h1v17h-1zM600 303h3v2h-3zM605 290h1v23h-1zM604 300h3v3h-3zM609 291h1v19h-1zM608 299h3v1h-3zM621 284h1v73h-1zM620 296h3v51h-3zM637 289h1v20h-1zM636 297h3v7h-3zM641 289h1v17h-1zM640 293h3v5h-3zM645 268h1v32h-1zM644 281h3v11h-3zM669 295h1v12h-1zM668 301h3v3h-3zM681 291h1v21h-1zM680 297h3v12h-3zM689 300h1v37h-1zM688 305h3v19h-3zM693 285h1v22h-1zM692 300h3v6h-3zM701 261h1v43h-1zM700 272h3v28h-3zM733 318h1v37h-1zM732 324h3v13h-3zM757 356h1v26h-1zM756 361h3v10h-3zM761 297h1v66h-1zM760 308h3v54h-3zM765 301h1v27h-1zM764 304h3v4h-3zM769 280h1v35h-1zM768 303h3v9h-3zM785 308h1v33h-1zM784 317h3v18h-3zM789 308h1v21h-1zM788 320h3v2h-3zM793 296h1v32h-1zM792 311h3v9h-3zM801 309h1v27h-1zM800 315h3v3h-3zM805 307h1v26h-1zM804 310h3v6h-3zM821 357h1v19h-1zM820 365h3v3h-3zM829 371h1v19h-1zM828 374h3v4h-3zM841 363h1v48h-1zM840 384h3v15h-3zM853 386h1v24h-1zM852 391h3v8h-3zM857 369h1v34h-1zM856 383h3v9h-3zM865 371h1v21h-1zM864 377h3v8h-3zM881 370h1v17h-1zM880 379h3v5h-3zM885 320h1v60h-1zM884 323h3v57h-3zM889 261h1v66h-1zM888 268h3v53h-3zM901 308h1v23h-1zM900 316h3v1h-3zM905 289h1v33h-1zM904 303h3v13h-3zM909 291h1v30h-1zM908 302h3v4h-3zM913 293h1v14h-1zM912 296h3v8h-3zM917 273h1v26h-1zM916 275h3v22h-3z"/>
<path fill="#ff4500" d="M9 224h1v9h-1zM13 212h1v11h-1zM17 169h1v42h-1zM29 192h1v2h-1zM37 192h1v26h-1zM45 200h1v4h-1zM73 289h1v20h-1zM77 286h1v2h-1zM81 260h1v24h-1zM93 258h1v18h-1zM105 267h1v13h-1zM109 245h1v20h-1zM117 196h1v51h-1zM121 174h1v21h-1zM125 165h1v8h-1zM129 149h1v20h-1zM133 135h1v13h-1zM137 130h1v4h-1zM149 160h1v2h-1zM153 153h1v5h-1zM157 148h1v3h-1zM161 139h1v8h-1zM173 132h1v21h-1zM181 112h1v23h-1zM193 127h1v7h-1zM201 155h1v1h-1zM205 138h1v16h-1zM209 101h1v32h-1zM221 138h1v14h-1zM225 135h1v1h-1zM229 127h1v6h-1zM233 61h1v64h-1zM245 151h1v10h-1zM253 153h1v1h-1zM265 131h1v28h-1zM269 121h1v3h-1zM273 118h1v3h-1zM293 109h1v25h-1zM301 98h1v21h-1zM321 126h1v17h-1zM329 152h1v3h-1zM349 178h1v17h-1zM353 159h1v18h-1zM369 190h1v1h-1zM381 172h1v39h-1zM385 145h1v26h-1zM389 127h1v11h-1zM393 121h1v4h-1zM405 154h1v2h-1zM413 143h1v17h-1zM417 131h1v10h-1zM429 177h1v10h-1zM437 169h1v9h-1zM449 163h1v19h-1zM461 201h1v9h-1zM477 271h1v25h-1zM497 269h1v22h-1zM505 247h1v28h-1zM513 256h1v8h-1zM521 266h1v3h-1zM525 262h1v3h-1zM537 261h1v16h-1zM549 288h1v5h-1zM553 274h1v12h-1zM561 292h1v5h-1zM565 274h1v17h-1zM573 273h1v2h-1zM577 267h1v5h-1zM585 262h1v13h-1zM597 306h1v3h-1zM605 301h1v1h-1zM621 297h1v49h-1zM637 298h1v5h-1zM641 294h1v3h-1zM645 282h1v9h-1zM669 302h1v1h-1zM681 298h1v10h-1zM689 306h1v17h-1zM693 301h1v4h-1zM701 273h1v26h-1zM733 325h1v11h-1zM757 362h1v8h-1zM761 309h1v52h-1zM765 305h1v2h-1zM769 304h1v7h-1zM785 318h1v16h-1zM793 312h1v7h-1zM801 316h1v1h-1zM805 311h1v4h-1zM821 366h1v1h-1zM829 375h1v2h-1zM841 385h1v13h-1zM853 392h1v6h-1zM857 384h1v7h-1zM865 378h1v6h-1zM881 380h1v3h-1zM885 324h1v55h-1zM889 269h1v51h-1zM905 304h1v11h-1zM909 303h1v2h-1zM913 297h1v6h-1zM917 276h1v20h-1z"/>
</g>
</g>
<clipPath id="c2"><rect x="5" y="423" width="1162" height="71"/></clipPath>
<g clip-path="url(#c2)">
<g class="c">
<path fill="#c0c0c0" d="M4 448h3v30h-3zM8 448h3v34h-3zM12 448h3v35h-3zM16 448h3v33h-3zM20 448h3v32h-3zM24 448h3v31h-3zM28 448h3v31h-3zM32 448h3v31h-3zM36 448h3v30h-3zM40 448h3v29h-3zM44 448h3v28h-3zM48 448h3v30h-3zM52 448h3v31h-3zM56 448h3v34h-3zM60 448h3v37h-3zM64 448h3v41h-3zM68 448h3v43h-3zM72 448h3v43h-3zM76 448h3v42h-3zM80 448h3v39h-3zM84 448h3v37h-3zM88 448h3v35h-3zM92 448h3v32h-3zM96 448h3v31h-3zM100 448h3v30h-3zM104 448h3v27h-3zM108 448h3v24h-3zM112 448h3v21h-3zM116 448h3v14h-3zM120 448h3v8h-3zM124 448h3v2h-3zM128 443h3v5h-3zM132 438h3v10h-3zM136 433h3v15h-3zM140 431h3v17h-3zM144 430h3v18h-3zM148 430h3v18h-3zM152 430h3v18h-3zM156 429h3v19h-3zM160 428h3v20h-3zM164 428h3v20h-3zM168 429h3v19h-3zM172 428h3v20h-3zM176 429h3v19h-3zM180 427h3v21h-3zM184 427h3v21h-3zM188 428h3v20h-3zM192 428h3v20h-3zM196 431h3v17h-3zM200 433h3v15h-3zM204 434h3v14h-3zM208 432h3v16h-3zM212 432h3v16h-3zM216 434h3v14h-3zM220 435h3v13h-3zM224 436h3v12h-3zM228 436h3v12h-3zM232 432h3v16h-3zM236 432h3v16h-3zM240 436h3v12h-3zM244 439h3v9h-3zM248 441h3v7h-3zM252 443h3v5h-3zM256 445h3v3h-3zM260 446h3v2h-3zM264 445h3v3h-3zM268 444h3v4h-3zM272 443h3v5h-3zM276 443h3v5h-3zM280 443h3v5h-3zM284 444h3v4h-3zM288 444h3v4h-3zM292 442h3v6h-3zM296 442h3v6h-3zM300 440h3v8h-3zM304 439h3v9h-3zM308 440h3v8h-3zM312 443h3v5h-3zM316 444h3v4h-3zM320 444h3v4h-3zM324 447h3v1h-3zM328 448h3v1h-3zM332 448h3v4h-3zM336 448h3v6h-3zM340 448h3v8h-3zM344 448h3v11h-3zM348 448h3v11h-3zM352 448h3v10h-3zM356 448h3v10h-3zM360 448h3v10h-3zM364 448h3v12h-3zM368 448h3v12h-3zM372 448h3v13h-3zM376 448h3v15h-3zM380 448h3v13h-3zM384 448h3v10h-3zM388 448h3v6h-3zM392 448h3v2h-3zM396 448h3v1h-3zM400 448h3v1h-3zM404 448h3v1h-3zM408 448h3v1h-3zM412 447h3v1h-3zM416 445h3v3h-3zM420 448h3v1h-3zM424 448h3v4h-3zM428 448h3v5h-3zM432 448h3v6h-3zM436 448h3v5h-3zM440 448h3v6h-3zM444 448h3v7h-3zM448 448h3v6h-3zM452 448h3v5h-3zM456 448h3v8h-3zM460 448h3v9h-3zM464 448h3v10h-3zM468 448h3v11h-3zM472 448h3v19h-3zM476 448h3v22h-3zM480 448h3v24h-3zM484 448h3v27h-3zM488 448h3v29h-3zM492 448h3v31h-3zM496 448h3v30h-3zM500 448h3v29h-3zM504 448h3v27h-3zM508 448h3v25h-3zM512 448h3v24h-3zM516 448h3v23h-3zM520 448h3v22h-3zM524 448h3v20h-3zM528 448h3v20h-3zM532 448h3v20h-3zM536 448h3v18h-3zM540 448h3v17h-3zM544 448h3v18h-3zM548 448h3v18h-3zM552 448h3v17h-3zM556 448h3v18h-3zM560 448h3v17h-3zM564 448h3v16h-3zM568 448h3v15h-3zM572 448h3v13h-3zM576 448h3v12h-3zM580 448h3v11h-3zM584 448h3v9h-3zM588 448h3v9h-3zM592 448h3v11h-3zM596 448h3v12h-3zM600 448h3v13h-3zM604 448h3v13h-3zM608 448h3v13h-3zM612 448h3v14h-3zM616 448h3v17h-3zM620 448h3v15h-3zM624 448h3v14h-3zM628 448h3v13h-3zM632 448h3v12h-3zM636 448h3v11h-3zM640 448h3v10h-3zM644 448h3v8h-3zM648 448h3v6h-3zM652 448h3v6h-3zM656 448h3v6h-3zM660 448h3v6h-3zM664 448h3v5h-3zM668 448h3v5h-3zM672 448h3v6h-3zM676 448h3v6h-3zM680 448h3v5h-3zM684 448h3v6h-3zM688 448h3v6h-3zM692 448h3v6h-3zM696 448h3v5h-3zM700 448h3v3h-3zM704 448h3v2h-3zM708 448h3v1h-3zM712 448h3v1h-3zM716 448h3v3h-3zM720 448h3v4h-3zM724 448h3v6h-3zM728 448h3v8h-3zM732 448h3v8h-3zM736 448h3v10h-3zM740 448h3v11h-3zM744 448h3v12h-3zM748 448h3v14h-3zM752 448h3v16h-3zM756 448h3v17h-3zM760 448h3v13h-3zM764 448h3v10h-3zM768 448h3v7h-3zM772 448h3v6h-3zM776 448h3v5h-3zM780 448h3v6h-3zM784 448h3v5h-3zM788 448h3v4h-3zM792 448h3v3h-3zM796 448h3v3h-3zM800 448h3v2h-3zM804 448h3v1h-3zM808 448h3v2h-3zM812 448h3v5h-3zM816 448h3v7h-3zM820 448h3v9h-3zM824 448h3v12h-3zM828 448h3v13h-3zM832 448h3v14h-3zM836 448h3v17h-3zM840 448h3v17h-3zM844 448h3v19h-3zM848 448h3v20h-3zM852 448h3v19h-3zM856 448h3v18h-3zM860 448h3v18h-3zM864 448h3v16h-3zM868 448h3v15h-3zM872 448h3v14h-3zM876 448h3v14h-3zM880 448h3v13h-3zM884 448h3v8h-3zM888 447h3v1h-3zM892 442h3v6h-3zM896 440h3v8h-3zM900 439h3v9h-3zM904 437h3v11h-3zM908 436h3v12h-3zM912 435h3v13h-3zM916 432h3v16h-3zM920 432h3v16h-3zM924 432h3v16h-3z"/>
</g>
<path class="c" fill="#ff0000" d="M183 428h16v1h-16zM171 429h12v1h-12zM199 429h8v1h-8zM167 430h4v1h-4zM207 430h8v1h-8zM163 431h4v1h-4zM215 431h4v1h-4zM161 432h2v1h-2zM219 432h4v1h-4zM159 433h2v1h-2zM223 433h4v1h-4zM227 434h16v1h-16zM243 435h4v1h-4zM155 436h2v1h-2zM247 436h4v1h-4zM251 437h4v1h-4zM922 437h2v1h-2zM255 438h4v1h-4zM920 438h2v1h-2zM151 439h2v1h-2zM259 439h4v1h-4zM918 439h2v1h-2zM263 440h4v1h-4zM267 441h3v1h-3zM915 441h2v1h-2zM270 442h2v1h-2zM303 442h24v1h-24zM272 443h7v1h-7zM295 443h8v1h-8zM327 443h4v1h-4zM279 444h16v1h-16zM331 444h3v1h-3zM911 444h2v1h-2zM334 445h2v1h-2zM336 446h3v1h-3zM339 447h3v1h-3zM907 447h2v1h-2zM342 448h2v1h-2zM419 448h12v1h-12zM344 449h2v1h-2zM416 449h3v1h-3zM431 449h8v1h-8zM346 450h2v1h-2zM414 450h2v1h-2zM439 450h4v1h-4zM811 450h4v1h-4zM903 450h2v1h-2zM348 451h3v1h-3zM412 451h2v1h-2zM443 451h8v1h-8zM711 451h24v1h-24zM803 451h8v1h-8zM815 451h8v1h-8zM351 452h3v1h-3zM410 452h2v1h-2zM451 452h4v1h-4zM699 452h12v1h-12zM735 452h4v1h-4zM799 452h4v1h-4zM823 452h4v1h-4zM354 453h2v1h-2zM407 453h3v1h-3zM455 453h8v1h-8zM671 453h28v1h-28zM739 453h4v1h-4zM795 453h4v1h-4zM827 453h4v1h-4zM899 453h2v1h-2zM356 454h3v1h-3zM403 454h4v1h-4zM463 454h7v1h-7zM667 454h4v1h-4zM743 454h3v1h-3zM791 454h4v1h-4zM831 454h3v1h-3zM359 455h4v1h-4zM399 455h4v1h-4zM470 455h2v1h-2zM663 455h4v1h-4zM746 455h2v1h-2zM788 455h3v1h-3zM834 455h2v1h-2zM896 455h2v1h-2zM363 456h4v1h-4zM395 456h4v1h-4zM472 456h2v1h-2zM655 456h8v1h-8zM748 456h3v1h-3zM786 456h2v1h-2zM836 456h2v1h-2zM894 456h2v1h-2zM367 457h4v1h-4zM391 457h4v1h-4zM474 457h2v1h-2zM652 457h3v1h-3zM751 457h4v1h-4zM783 457h3v1h-3zM838 457h2v1h-2zM371 458h4v1h-4zM387 458h4v1h-4zM476 458h2v1h-2zM607 458h4v1h-4zM650 458h2v1h-2zM755 458h4v1h-4zM775 458h8v1h-8zM840 458h3v1h-3zM891 458h2v1h-2zM375 459h12v1h-12zM478 459h2v1h-2zM595 459h12v1h-12zM611 459h8v1h-8zM643 459h7v1h-7zM759 459h16v1h-16zM843 459h3v1h-3zM480 460h2v1h-2zM587 460h8v1h-8zM619 460h8v1h-8zM635 460h8v1h-8zM846 460h2v1h-2zM888 460h2v1h-2zM482 461h2v1h-2zM583 461h4v1h-4zM627 461h8v1h-8zM848 461h2v1h-2zM886 461h2v1h-2zM484 462h2v1h-2zM579 462h4v1h-4zM850 462h2v1h-2zM883 462h3v1h-3zM575 463h4v1h-4zM852 463h3v1h-3zM879 463h4v1h-4zM487 464h2v1h-2zM567 464h8v1h-8zM855 464h8v1h-8zM871 464h8v1h-8zM555 465h12v1h-12zM863 465h8v1h-8zM490 466h2v1h-2zM551 466h4v1h-4zM492 467h2v1h-2zM543 467h8v1h-8zM6 468h2v1h-2zM539 468h4v1h-4zM8 469h2v1h-2zM495 469h2v1h-2zM535 469h4v1h-4zM10 470h2v1h-2zM532 470h3v1h-3zM12 471h2v1h-2zM498 471h2v1h-2zM530 471h2v1h-2zM14 472h2v1h-2zM500 472h3v1h-3zM527 472h3v1h-3zM16 473h3v1h-3zM119 473h2v1h-2zM503 473h4v1h-4zM523 473h4v1h-4zM19 474h3v1h-3zM507 474h16v1h-16zM22 475h2v1h-2zM116 475h2v1h-2zM24 476h3v1h-3zM114 476h2v1h-2zM27 477h4v1h-4zM51 477h4v1h-4zM31 478h4v1h-4zM43 478h8v1h-8zM55 478h8v1h-8zM111 478h2v1h-2zM35 479h8v1h-8zM63 479h3v1h-3zM66 480h2v1h-2zM108 480h2v1h-2zM68 481h3v1h-3zM106 481h2v1h-2zM71 482h3v1h-3zM104 482h2v1h-2zM74 483h2v1h-2zM102 483h2v1h-2zM76 484h3v1h-3zM99 484h3v1h-3zM79 485h4v1h-4zM95 485h4v1h-4zM83 486h12v1h-12zM5 467h1v1h-1zM110 479h1v1h-1zM113 477h1v1h-1zM118 474h1v1h-1zM121 472h1v1h-1zM122 471h1v1h-1zM123 470h1v1h-1zM124 469h1v1h-1zM125 468h1v1h-1zM126 467h1v1h-1zM127 466h1v1h-1zM128 465h1v1h-1zM129 464h1v1h-1zM130 463h1v1h-1zM131 461h1v2h-1zM132 460h1v1h-1zM133 459h1v1h-1zM134 458h1v1h-1zM135 457h1v1h-1zM136 456h1v1h-1zM137 455h1v1h-1zM138 454h1v1h-1zM139 452h1v2h-1zM140 451h1v1h-1zM141 450h1v1h-1zM142 449h1v1h-1zM143 447h1v2h-1zM144 446h1v1h-1zM145 445h1v1h-1zM146 444h1v1h-1zM147 443h1v1h-1zM148 442h1v1h-1zM149 441h1v1h-1zM150 440h1v1h-1zM153 438h1v1h-1zM154 437h1v1h-1zM157 435h1v1h-1zM158 434h1v1h-1zM486 463h1v1h-1zM489 465h1v1h-1zM494 468h1v1h-1zM497 470h1v1h-1zM890 459h1v1h-1zM893 457h1v1h-1zM898 454h1v1h-1zM901 452h1v1h-1zM902 451h1v1h-1zM905 449h1v1h-1zM906 448h1v1h-1zM909 446h1v1h-1zM910 445h1v1h-1zM913 443h1v1h-1zM914 442h1v1h-1zM917 440h1v1h-1zM924 436h1v1h-1z" />
</g>
<clipPath id="c3"><rect x="5" y="497" width="1162" height="73"/></clipPath>
<g clip-path="url(#c3)">
<path class="c" d="M6 519.5H1167" stroke="#c0c0c0" stroke-width="1" stroke-dasharray="3 3" fill="none"/>
<path class="c" d="M6 548.5H1167" stroke="#c0c0c0" stroke-width="1" stroke-dasharray="3 3" fill="none"/>
<path class="c" fill="#1e90ff" d="M889 517h2v1h-2zM132 521h6v1h-6zM130 522h2v1h-2zM138 522h2v1h-2zM127 523h3v1h-3zM140 523h2v1h-2zM179 523h2v1h-2zM915 523h2v1h-2zM123 524h4v1h-4zM159 524h4v1h-4zM173 524h2v1h-2zM183 524h2v1h-2zM919 524h2v1h-2zM121 525h2v1h-2zM155 525h4v1h-4zM163 525h3v1h-3zM175 525h3v1h-3zM911 525h3v1h-3zM119 526h2v1h-2zM151 526h4v1h-4zM186 526h2v1h-2zM191 526h3v1h-3zM904 526h7v1h-7zM145 527h6v1h-6zM167 527h2v1h-2zM188 527h3v1h-3zM301 527h5v1h-5zM389 527h5v1h-5zM902 527h2v1h-2zM923 527h2v1h-2zM299 528h2v1h-2zM387 528h2v1h-2zM701 528h2v1h-2zM897 528h5v1h-5zM228 529h2v1h-2zM294 529h2v1h-2zM416 529h2v1h-2zM203 530h2v1h-2zM226 530h2v1h-2zM267 530h7v1h-7zM296 530h2v1h-2zM414 530h2v1h-2zM763 530h8v1h-8zM220 531h6v1h-6zM265 531h2v1h-2zM274 531h2v1h-2zM761 531h2v1h-2zM771 531h3v1h-3zM804 531h2v1h-2zM199 532h3v1h-3zM218 532h2v1h-2zM276 532h7v1h-7zM398 532h2v1h-2zM411 532h2v1h-2zM645 532h2v1h-2zM706 532h2v1h-2zM791 532h2v1h-2zM794 532h2v1h-2zM802 532h2v1h-2zM197 533h2v1h-2zM283 533h7v1h-7zM400 533h7v1h-7zM449 533h2v1h-2zM643 533h2v1h-2zM647 533h3v1h-3zM708 533h3v1h-3zM785 533h2v1h-2zM796 533h6v1h-6zM407 534h3v1h-3zM451 534h3v1h-3zM583 534h2v1h-2zM650 534h2v1h-2zM711 534h3v1h-3zM787 534h3v1h-3zM109 535h5v1h-5zM243 535h16v1h-16zM311 535h2v1h-2zM353 535h2v1h-2zM435 535h4v1h-4zM575 535h4v1h-4zM636 535h6v1h-6zM652 535h7v1h-7zM691 535h7v1h-7zM241 536h2v1h-2zM259 536h3v1h-3zM313 536h5v1h-5zM355 536h3v1h-3zM429 536h6v1h-6zM439 536h4v1h-4zM565 536h2v1h-2zM571 536h4v1h-4zM579 536h3v1h-3zM621 536h10v1h-10zM634 536h2v1h-2zM659 536h8v1h-8zM689 536h2v1h-2zM778 536h2v1h-2zM327 537h3v1h-3zM358 537h2v1h-2zM443 537h3v1h-3zM537 537h2v1h-2zM567 537h4v1h-4zM631 537h3v1h-3zM667 537h7v1h-7zM780 537h2v1h-2zM325 538h2v1h-2zM360 538h2v1h-2zM460 538h3v1h-3zM506 538h2v1h-2zM511 538h3v1h-3zM523 538h3v1h-3zM539 538h3v1h-3zM674 538h2v1h-2zM865 538h2v1h-2zM880 538h2v1h-2zM331 539h2v1h-2zM362 539h2v1h-2zM458 539h2v1h-2zM463 539h4v1h-4zM508 539h3v1h-3zM514 539h2v1h-2zM519 539h4v1h-4zM526 539h2v1h-2zM551 539h2v1h-2zM607 539h3v1h-3zM676 539h2v1h-2zM863 539h2v1h-2zM867 539h8v1h-8zM878 539h2v1h-2zM17 540h2v1h-2zM95 540h2v1h-2zM103 540h2v1h-2zM333 540h6v1h-6zM364 540h6v1h-6zM467 540h3v1h-3zM516 540h3v1h-3zM528 540h3v1h-3zM543 540h2v1h-2zM560 540h2v1h-2zM603 540h4v1h-4zM717 540h5v1h-5zM857 540h2v1h-2zM875 540h3v1h-3zM19 541h3v1h-3zM38 541h2v1h-2zM43 541h3v1h-3zM82 541h2v1h-2zM97 541h2v1h-2zM339 541h3v1h-3zM370 541h2v1h-2zM497 541h2v1h-2zM531 541h3v1h-3zM545 541h5v1h-5zM558 541h2v1h-2zM595 541h8v1h-8zM722 541h2v1h-2zM734 541h2v1h-2zM855 541h2v1h-2zM859 541h3v1h-3zM22 542h2v1h-2zM27 542h3v1h-3zM40 542h3v1h-3zM84 542h6v1h-6zM99 542h3v1h-3zM342 542h2v1h-2zM372 542h2v1h-2zM499 542h3v1h-3zM593 542h2v1h-2zM724 542h2v1h-2zM736 542h3v1h-3zM24 543h3v1h-3zM344 543h2v1h-2zM374 543h2v1h-2zM726 543h2v1h-2zM739 543h3v1h-3zM814 543h2v1h-2zM819 543h3v1h-3zM31 544h2v1h-2zM376 544h2v1h-2zM477 544h6v1h-6zM728 544h2v1h-2zM742 544h2v1h-2zM816 544h3v1h-3zM828 544h3v1h-3zM851 544h2v1h-2zM49 545h5v1h-5zM73 545h5v1h-5zM483 545h4v1h-4zM744 545h2v1h-2zM823 545h2v1h-2zM826 545h2v1h-2zM831 545h3v1h-3zM842 545h2v1h-2zM487 546h7v1h-7zM616 546h2v1h-2zM844 546h6v1h-6zM12 547h2v1h-2zM747 547h2v1h-2zM835 547h2v1h-2zM10 548h2v1h-2zM473 548h2v1h-2zM749 548h2v1h-2zM8 549h2v1h-2zM57 549h2v1h-2zM751 549h3v1h-3zM6 550h2v1h-2zM59 550h3v1h-3zM67 550h2v1h-2zM62 551h2v1h-2zM64 552h2v1h-2zM5 551h1v1h-1zM14 545h1v2h-1zM15 543h1v2h-1zM16 541h1v2h-1zM30 543h1v1h-1zM33 545h1v1h-1zM34 544h1v1h-1zM35 542h1v2h-1zM36 541h1v1h-1zM37 540h1v1h-1zM46 542h1v1h-1zM47 543h1v1h-1zM48 544h1v1h-1zM54 546h1v1h-1zM55 547h1v1h-1zM56 548h1v1h-1zM66 551h1v1h-1zM69 549h1v1h-1zM70 548h1v1h-1zM71 547h1v1h-1zM72 546h1v1h-1zM78 544h1v1h-1zM79 542h1v2h-1zM80 541h1v1h-1zM81 540h1v1h-1zM90 541h1v1h-1zM91 540h1v1h-1zM92 539h1v1h-1zM93 538h1v1h-1zM94 539h1v1h-1zM102 541h1v1h-1zM105 539h1v1h-1zM106 538h1v1h-1zM107 537h1v1h-1zM108 536h1v1h-1zM114 533h1v2h-1zM115 531h1v2h-1zM116 529h1v2h-1zM117 528h1v1h-1zM118 527h1v1h-1zM142 524h1v1h-1zM143 525h1v1h-1zM144 526h1v1h-1zM166 526h1v1h-1zM169 528h1v1h-1zM170 527h1v1h-1zM171 526h1v1h-1zM172 525h1v1h-1zM178 524h1v1h-1zM181 522h1v1h-1zM182 523h1v1h-1zM185 525h1v1h-1zM194 527h1v2h-1zM195 529h1v2h-1zM196 531h1v2h-1zM202 531h1v1h-1zM205 529h1v1h-1zM206 528h1v1h-1zM207 526h1v2h-1zM208 525h1v1h-1zM209 524h1v1h-1zM210 525h1v1h-1zM211 526h1v1h-1zM212 527h1v1h-1zM213 528h1v1h-1zM214 529h1v1h-1zM215 530h1v2h-1zM216 532h1v1h-1zM217 533h1v1h-1zM230 527h1v2h-1zM231 525h1v2h-1zM232 523h1v2h-1zM233 521h1v2h-1zM234 523h1v2h-1zM235 525h1v2h-1zM236 527h1v2h-1zM237 529h1v2h-1zM238 531h1v2h-1zM239 533h1v1h-1zM240 534h1v2h-1zM262 535h1v1h-1zM263 533h1v2h-1zM264 532h1v1h-1zM290 532h1v1h-1zM291 530h1v2h-1zM292 529h1v1h-1zM293 528h1v1h-1zM298 529h1v1h-1zM306 528h1v2h-1zM307 530h1v1h-1zM308 531h1v2h-1zM309 533h1v1h-1zM310 534h1v1h-1zM318 535h1v1h-1zM319 534h1v1h-1zM320 533h1v1h-1zM321 532h1v1h-1zM322 533h1v2h-1zM323 535h1v1h-1zM324 536h1v2h-1zM330 538h1v1h-1zM346 542h1v1h-1zM347 541h1v1h-1zM348 540h1v1h-1zM349 539h1v1h-1zM350 538h1v1h-1zM351 537h1v1h-1zM352 536h1v1h-1zM377 543h1v1h-1zM378 541h1v2h-1zM379 539h1v2h-1zM380 537h1v2h-1zM381 535h1v2h-1zM382 534h1v1h-1zM383 532h1v2h-1zM384 531h1v1h-1zM385 530h1v1h-1zM386 529h1v1h-1zM394 528h1v1h-1zM395 529h1v1h-1zM396 530h1v1h-1zM397 531h1v1h-1zM410 533h1v1h-1zM413 531h1v1h-1zM418 530h1v2h-1zM419 532h1v2h-1zM420 534h1v2h-1zM421 536h1v2h-1zM422 538h1v1h-1zM423 539h1v1h-1zM424 540h1v1h-1zM425 541h1v1h-1zM426 540h1v1h-1zM427 538h1v2h-1zM428 537h1v1h-1zM446 536h1v1h-1zM447 535h1v1h-1zM448 534h1v1h-1zM454 535h1v2h-1zM455 537h1v1h-1zM456 538h1v2h-1zM457 540h1v1h-1zM469 541h1v1h-1zM470 542h1v2h-1zM471 544h1v2h-1zM472 546h1v2h-1zM473 549h1v1h-1zM475 546h1v2h-1zM476 545h1v1h-1zM494 545h1v1h-1zM495 543h1v2h-1zM496 542h1v1h-1zM502 541h1v1h-1zM503 539h1v2h-1zM504 538h1v1h-1zM505 537h1v1h-1zM534 540h1v1h-1zM535 539h1v1h-1zM536 538h1v1h-1zM542 539h1v1h-1zM550 540h1v1h-1zM553 538h1v1h-1zM554 539h1v1h-1zM555 540h1v1h-1zM556 541h1v1h-1zM557 542h1v1h-1zM562 539h1v1h-1zM563 538h1v1h-1zM564 537h1v1h-1zM582 535h1v1h-1zM585 533h1v1h-1zM586 534h1v1h-1zM587 535h1v2h-1zM588 537h1v1h-1zM589 538h1v1h-1zM590 539h1v1h-1zM591 540h1v1h-1zM592 541h1v1h-1zM610 540h1v1h-1zM611 541h1v1h-1zM612 542h1v1h-1zM613 543h1v1h-1zM614 544h1v1h-1zM615 545h1v1h-1zM617 547h1v1h-1zM618 543h1v3h-1zM619 541h1v2h-1zM620 538h1v3h-1zM621 537h1v1h-1zM642 534h1v1h-1zM678 538h1v1h-1zM679 537h1v1h-1zM680 536h1v1h-1zM681 535h1v1h-1zM682 536h1v1h-1zM683 537h1v2h-1zM684 539h1v1h-1zM685 540h1v1h-1zM686 539h1v1h-1zM687 538h1v1h-1zM688 537h1v1h-1zM698 533h1v2h-1zM699 531h1v2h-1zM700 529h1v2h-1zM701 527h1v1h-1zM703 529h1v1h-1zM704 530h1v1h-1zM705 531h1v1h-1zM714 535h1v2h-1zM715 537h1v1h-1zM716 538h1v2h-1zM730 543h1v1h-1zM731 542h1v1h-1zM732 541h1v1h-1zM733 540h1v1h-1zM746 546h1v1h-1zM754 548h1v1h-1zM755 547h1v1h-1zM756 546h1v1h-1zM757 544h1v2h-1zM758 540h1v4h-1zM759 537h1v3h-1zM760 533h1v4h-1zM761 532h1v1h-1zM774 532h1v1h-1zM775 533h1v1h-1zM776 534h1v1h-1zM777 535h1v1h-1zM782 536h1v1h-1zM783 535h1v1h-1zM784 534h1v1h-1zM790 533h1v1h-1zM793 531h1v1h-1zM806 532h1v1h-1zM807 533h1v2h-1zM808 535h1v1h-1zM809 536h1v1h-1zM810 537h1v2h-1zM811 539h1v1h-1zM812 540h1v2h-1zM813 542h1v1h-1zM822 544h1v1h-1zM825 546h1v1h-1zM834 546h1v1h-1zM837 548h1v1h-1zM838 547h1v1h-1zM839 546h1v1h-1zM840 545h1v1h-1zM841 544h1v1h-1zM850 545h1v1h-1zM853 543h1v1h-1zM854 542h1v1h-1zM862 540h1v1h-1zM881 537h1v1h-1zM882 533h1v4h-1zM883 530h1v3h-1zM884 526h1v4h-1zM885 524h1v2h-1zM886 522h1v2h-1zM887 520h1v2h-1zM888 518h1v2h-1zM889 516h1v1h-1zM891 518h1v1h-1zM892 519h1v1h-1zM893 520h1v1h-1zM894 521h1v2h-1zM895 523h1v2h-1zM896 525h1v2h-1zM897 527h1v1h-1zM914 524h1v1h-1zM917 522h1v1h-1zM918 523h1v1h-1zM921 525h1v1h-1zM922 526h1v1h-1z" />
</g>
<g class="c">
<rect x="1169" y="160" width="38" height="11" fill="#ff0000" />
</g>
<text x="1173" y="169" font-size="10.2" fill="#fff" textLength="32.5" lengthAdjust="spacingAndGlyphs" text-rendering="geometricPrecision" stroke="#fff" stroke-width="0.22" >6.45528</text>
<g class="c">
<rect x="1169" y="233" width="38" height="11" fill="#ff0000" />
</g>
<text x="1173" y="242" font-size="10.2" fill="#fff" textLength="32.5" lengthAdjust="spacingAndGlyphs" text-rendering="geometricPrecision" stroke="#fff" stroke-width="0.22" >6.41045</text>
<g class="c">
<rect x="1169" y="307" width="38" height="11" fill="#00ff00" />
</g>
<text x="1173" y="316" font-size="10.2" fill="#fff" textLength="32.5" lengthAdjust="spacingAndGlyphs" text-rendering="geometricPrecision" stroke="#fff" stroke-width="0.22" >6.36501</text>
<g class="c">
<rect x="1169" y="380" width="38" height="11" fill="#0000ff" />
</g>
<text x="1173" y="389" font-size="10.2" fill="#fff" textLength="32.5" lengthAdjust="spacingAndGlyphs" text-rendering="geometricPrecision" stroke="#fff" stroke-width="0.22" >6.32018</text>
<g class="c">
<rect x="1169" y="294" width="38" height="11" fill="#000" />
</g>
<text x="1173" y="303" font-size="10.2" fill="#fff" textLength="32.5" lengthAdjust="spacingAndGlyphs" text-rendering="geometricPrecision" stroke="#fff" stroke-width="0.22" >6.37350</text>
<g class="c">
<rect x="7" y="48" width="221" height="58" fill="#fff" />
<rect x="8" y="49" width="52" height="24" fill="url(#gb)" />
<rect x="175" y="49" width="52" height="24" fill="url(#gb)" />
<rect x="8" y="73" width="109" height="33" fill="url(#gp)" />
<rect x="119" y="73" width="108" height="33" fill="url(#gp)" />
<rect x="12" y="72" width="44" height="1" fill="#8c0000" />
<rect x="12" y="73" width="44" height="1" fill="#ff8a8a" />
<rect x="179" y="72" width="44" height="1" fill="#8c0000" />
<rect x="179" y="73" width="44" height="1" fill="#ff8a8a" />
<rect x="8" y="49" width="1" height="57" fill="#c01414" />
<rect x="226" y="49" width="1" height="57" fill="#c01414" />
<rect x="8" y="49" width="52" height="1" fill="#c01414" />
<rect x="175" y="49" width="52" height="1" fill="#c01414" />
<rect x="59" y="49" width="1" height="24" fill="#c01414" />
<rect x="175" y="49" width="1" height="24" fill="#c01414" />
<rect x="59" y="73" width="58" height="1" fill="#c01414" />
<rect x="119" y="73" width="57" height="1" fill="#c01414" />
<rect x="116" y="73" width="1" height="33" fill="#b01010" />
<rect x="119" y="73" width="1" height="33" fill="#b01010" />
<rect x="8" y="105" width="109" height="1" fill="#8c0000" />
<rect x="119" y="105" width="108" height="1" fill="#8c0000" />
<rect x="62" y="49" width="111" height="22" fill="#fff" />
<rect x="62" y="49" width="111" height="1" fill="#a0a0a0" />
<rect x="62" y="70" width="111" height="1" fill="#a0a0a0" />
<rect x="62" y="49" width="1" height="22" fill="#a0a0a0" />
<rect x="172" y="49" width="1" height="22" fill="#a0a0a0" />
<rect x="64" y="51" width="18" height="18" fill="url(#gs)" />
<rect x="83" y="50" width="1" height="20" fill="#a0a0a0" />
<rect x="153" y="51" width="18" height="18" fill="url(#gs)" />
<rect x="151" y="50" width="1" height="20" fill="#a0a0a0" />
</g>
<path d="M69.5 58 h5 l-2.5 3z" fill="#5a6ec8"/>
<path d="M159 61 h5 l-2.5 -3z" fill="#5a6ec8"/>
<text x="124" y="64" font-size="12.5" fill="#000" textLength="24" lengthAdjust="spacingAndGlyphs" >0.50</text>
<text x="20" y="65" font-size="12.5" fill="#fff" textLength="26" lengthAdjust="spacingAndGlyphs" >SELL</text>
<text x="188.5" y="65" font-size="12.5" fill="#fff" textLength="23.5" lengthAdjust="spacingAndGlyphs" >BUY</text>
<text x="28" y="101" font-size="11" fill="#fff" textLength="24" lengthAdjust="spacingAndGlyphs" font-weight="bold" >6.37</text>
<text x="138" y="101" font-size="11" fill="#fff" textLength="24" lengthAdjust="spacingAndGlyphs" font-weight="bold" >6.37</text>
<text x="55.5" y="101" font-size="31.5" fill="#fff" textLength="35" lengthAdjust="spacingAndGlyphs" font-family="DejaVu Sans Light, DejaVu Sans, sans-serif" font-weight="200" stroke="#fff" stroke-width="0.7">35</text>
<text x="167" y="101" font-size="31.5" fill="#fff" textLength="35" lengthAdjust="spacingAndGlyphs" font-family="DejaVu Sans Light, DejaVu Sans, sans-serif" font-weight="200" stroke="#fff" stroke-width="0.7">57</text>
<text x="94.5" y="85" font-size="11" fill="#fff" textLength="7" lengthAdjust="spacingAndGlyphs" font-weight="bold" >0</text>
<text x="206" y="85" font-size="11" fill="#fff" textLength="7" lengthAdjust="spacingAndGlyphs" font-weight="bold" >6</text>
<path d="M8 41 L11.5 35.5 L15 41 Z" fill="#000"/>
<text x="20" y="41" font-size="10.2" fill="#000" textLength="68.5" lengthAdjust="spacingAndGlyphs" text-rendering="geometricPrecision" stroke="#000" stroke-width="0.22" >USDCNH-,Daily</text>
<text x="95" y="41" font-size="10.2" fill="#000" textLength="32.5" lengthAdjust="spacingAndGlyphs" text-rendering="geometricPrecision" stroke="#000" stroke-width="0.22" >6.38108</text>
<text x="131" y="41" font-size="10.2" fill="#000" textLength="32.5" lengthAdjust="spacingAndGlyphs" text-rendering="geometricPrecision" stroke="#000" stroke-width="0.22" >6.38148</text>
<text x="167" y="41" font-size="10.2" fill="#000" textLength="32.5" lengthAdjust="spacingAndGlyphs" text-rendering="geometricPrecision" stroke="#000" stroke-width="0.22" >6.37133</text>
<text x="203" y="41" font-size="10.2" fill="#000" textLength="32.5" lengthAdjust="spacingAndGlyphs" text-rendering="geometricPrecision" stroke="#000" stroke-width="0.22" >6.37350</text>
<text x="9" y="435" font-size="10.2" fill="#000" textLength="65.5" lengthAdjust="spacingAndGlyphs" text-rendering="geometricPrecision" stroke="#000" stroke-width="0.22" >MACD(12,26,9)</text>
<text x="78" y="435" font-size="10.2" fill="#000" textLength="38" lengthAdjust="spacingAndGlyphs" text-rendering="geometricPrecision" stroke="#000" stroke-width="0.22" >0.010991</text>
<text x="119" y="435" font-size="10.2" fill="#000" textLength="38" lengthAdjust="spacingAndGlyphs" text-rendering="geometricPrecision" stroke="#000" stroke-width="0.22" >0.008138</text>
<text x="9" y="509" font-size="10.2" fill="#000" textLength="32" lengthAdjust="spacingAndGlyphs" text-rendering="geometricPrecision" stroke="#000" stroke-width="0.22" >RSI(14)</text>
<text x="44" y="509" font-size="10.2" fill="#000" textLength="33" lengthAdjust="spacingAndGlyphs" text-rendering="geometricPrecision" stroke="#000" stroke-width="0.22" >58.0037</text>
</svg>
</body>
</html>
